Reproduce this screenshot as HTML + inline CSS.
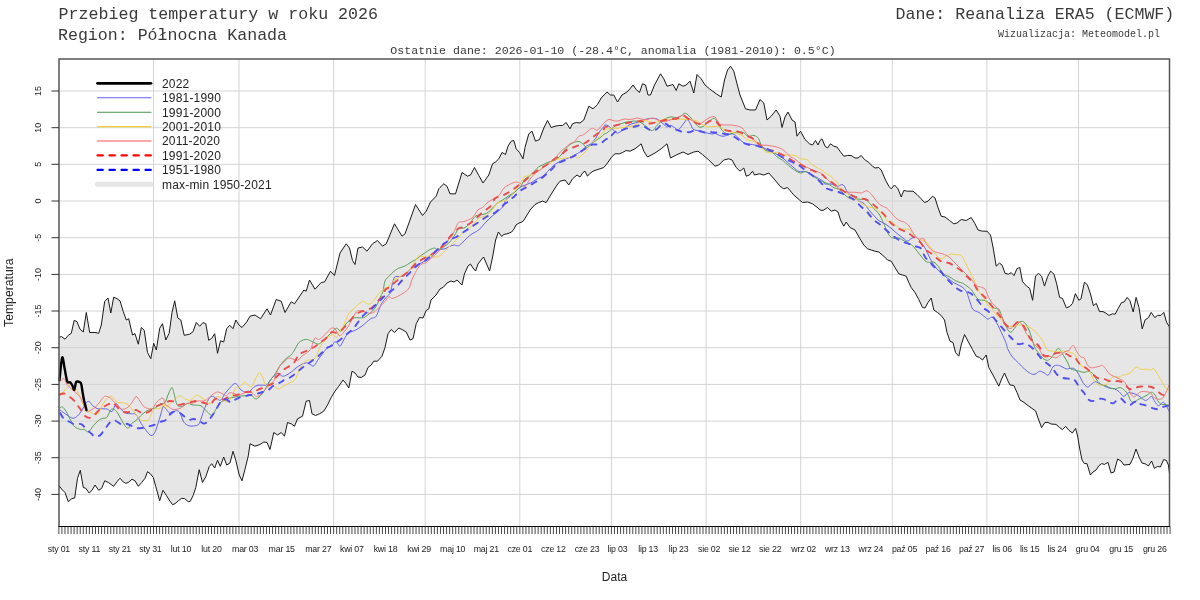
<!DOCTYPE html><html><head><meta charset="utf-8"><style>html,body{margin:0;padding:0;background:#fff;}svg{display:block}.m{font-family:"Liberation Mono",monospace;fill:#3a3a3a}.s{font-family:"Liberation Sans",Arial,sans-serif;fill:#222}</style></head><body>
<svg width="1200" height="600" viewBox="0 0 1200 600">
<rect width="1200" height="600" fill="#fff"/>
<text class="m" x="58.5" y="19" font-size="16.65">Przebieg temperatury w roku 2026</text>
<text class="m" x="58" y="40" font-size="16.6">Region: Północna Kanada</text>
<text class="m" x="1174.3" y="19" font-size="16.6" text-anchor="end">Dane: Reanaliza ERA5 (ECMWF)</text>
<text class="m" x="1160" y="37.4" font-size="10" text-anchor="end" fill="#555">Wizualizacja: Meteomodel.pl</text>
<text class="m" x="613" y="53.5" font-size="11.6" text-anchor="middle" fill="#555">Ostatnie dane: 2026-01-10 (-28.4°C, anomalia (1981-2010): 0.5°C)</text>
<path d="M59.2 337.0 L61.7 336.7 L65.0 339.2 L68.3 335.3 L71.3 333.3 L74.2 320.3 L77.0 321.7 L80.0 329.2 L83.3 332.0 L86.3 312.5 L89.7 332.5 L95.0 332.5 L98.7 333.3 L101.3 325.0 L104.7 301.3 L108.0 298.0 L110.8 313.0 L113.7 297.2 L117.0 298.7 L120.0 300.8 L123.3 311.7 L126.3 320.0 L128.7 318.7 L132.5 335.0 L135.0 333.7 L138.3 344.2 L141.3 327.5 L144.2 330.3 L147.5 352.5 L150.8 358.7 L153.7 343.3 L156.3 350.0 L159.7 328.3 L162.5 323.7 L165.8 340.0 L169.2 333.3 L172.0 312.5 L174.7 300.8 L177.8 318.0 L180.8 320.0 L184.2 335.3 L189.7 334.2 L193.0 331.7 L196.3 322.5 L199.7 326.3 L203.0 322.5 L205.8 323.7 L208.7 340.3 L211.7 338.3 L214.7 333.7 L217.5 353.3 L220.5 340.8 L223.7 342.0 L226.7 328.7 L229.7 325.3 L233.0 328.7 L235.8 320.0 L239.2 325.3 L242.0 327.5 L246.7 322.0 L250.0 316.2 L255.0 315.0 L260.5 318.8 L267.0 308.8 L270.5 315.0 L276.2 299.5 L281.2 301.2 L285.0 312.5 L291.2 301.8 L294.5 303.8 L303.8 290.0 L306.2 291.2 L309.5 280.0 L315.0 289.2 L321.2 282.5 L324.5 282.0 L330.5 271.2 L334.5 275.5 L340.0 253.0 L346.2 243.8 L349.5 248.0 L352.5 260.5 L355.0 264.5 L358.0 248.0 L362.5 247.0 L367.0 251.2 L372.5 243.8 L377.5 240.5 L382.5 246.2 L386.2 243.8 L394.5 223.8 L397.5 228.8 L402.0 236.2 L405.0 233.8 L410.0 220.0 L415.5 204.5 L422.5 215.5 L426.2 211.2 L430.5 202.0 L436.2 196.2 L438.8 188.8 L440.0 187.5 L443.8 183.8 L447.0 186.2 L450.0 193.8 L455.5 193.8 L462.0 172.5 L467.5 176.2 L470.5 175.0 L474.5 167.5 L478.8 175.5 L483.0 183.0 L488.8 175.0 L492.5 163.8 L495.5 162.0 L498.8 158.8 L502.0 152.5 L505.5 154.5 L508.0 146.2 L511.2 141.2 L513.8 140.5 L516.2 148.8 L519.5 152.5 L523.0 158.8 L525.0 147.5 L528.8 133.8 L532.0 131.2 L535.5 141.2 L539.5 139.5 L543.8 128.0 L547.5 120.5 L551.2 127.5 L555.0 126.2 L558.8 125.5 L562.5 125.5 L566.2 122.5 L570.0 128.8 L572.5 123.8 L576.2 122.5 L580.0 123.0 L583.8 120.0 L588.8 106.2 L593.0 108.8 L597.5 104.5 L601.2 98.0 L607.0 92.0 L610.5 95.0 L613.8 95.0 L617.5 102.0 L622.0 95.0 L627.0 92.0 L630.0 88.8 L633.0 85.0 L636.2 89.5 L639.5 92.5 L642.5 83.8 L645.5 85.0 L648.0 95.0 L650.5 95.0 L654.5 85.0 L660.5 73.8 L663.8 78.8 L667.0 86.2 L671.2 85.0 L673.0 84.5 L676.2 90.5 L678.8 83.8 L683.0 86.2 L686.2 85.0 L690.0 81.2 L693.8 93.0 L697.0 74.5 L701.2 78.8 L705.0 85.0 L709.5 88.8 L716.2 93.8 L721.2 97.0 L724.5 80.0 L727.5 70.0 L730.5 66.2 L733.8 71.2 L737.0 83.8 L740.0 95.0 L745.5 108.8 L750.0 110.0 L755.5 110.0 L760.0 99.5 L763.8 103.0 L767.0 120.0 L771.2 116.2 L776.2 110.0 L780.0 116.2 L782.0 127.5 L785.0 117.0 L788.0 112.0 L792.0 120.0 L795.0 122.0 L797.0 136.2 L800.5 131.2 L805.0 139.5 L809.5 143.8 L812.5 145.0 L815.5 140.5 L818.0 145.0 L820.0 140.5 L822.0 138.8 L825.0 146.2 L827.5 148.0 L830.5 143.8 L833.8 146.2 L837.0 147.0 L840.0 151.2 L843.8 156.2 L847.5 155.5 L851.2 155.5 L855.0 158.0 L858.0 158.0 L861.2 155.5 L864.5 159.5 L868.8 162.5 L872.5 166.2 L875.0 168.0 L878.8 167.5 L881.2 170.0 L885.5 180.0 L888.8 186.2 L891.2 188.8 L894.5 185.0 L898.0 188.8 L901.2 197.0 L903.8 190.5 L907.5 191.2 L913.0 191.2 L917.0 194.5 L921.2 198.8 L924.5 202.5 L928.0 201.2 L932.5 196.2 L935.0 198.0 L938.0 207.5 L941.2 216.2 L945.0 217.0 L949.5 220.5 L953.8 223.8 L957.0 223.0 L961.2 219.5 L966.2 220.5 L971.2 217.5 L975.0 223.8 L978.0 230.0 L982.5 231.2 L987.0 231.2 L990.5 235.0 L993.0 247.0 L996.2 266.2 L999.5 263.0 L1000.0 263.6 L1002.2 265.2 L1005.0 273.3 L1008.5 274.2 L1011.2 272.6 L1014.0 275.6 L1016.9 268.8 L1019.8 267.4 L1022.5 281.6 L1026.5 286.1 L1029.7 288.4 L1032.6 300.3 L1035.5 276.0 L1038.7 273.3 L1041.6 276.4 L1044.5 286.1 L1047.7 276.4 L1050.6 271.1 L1054.0 274.2 L1056.7 283.9 L1059.6 297.4 L1062.5 298.5 L1066.4 307.9 L1069.8 306.4 L1072.5 303.4 L1075.4 293.6 L1078.8 300.3 L1081.0 298.9 L1084.4 282.3 L1087.3 284.6 L1090.5 294.0 L1093.4 305.7 L1096.3 303.4 L1099.5 311.6 L1103.0 311.6 L1105.8 313.1 L1109.1 315.4 L1112.5 313.8 L1115.2 314.2 L1118.1 308.6 L1121.5 302.6 L1124.2 301.9 L1127.1 297.4 L1130.0 300.8 L1133.2 312.0 L1136.1 297.4 L1139.0 307.5 L1142.2 328.9 L1145.1 319.9 L1148.5 317.6 L1151.2 312.4 L1154.8 317.6 L1157.5 315.4 L1160.9 315.4 L1163.8 312.4 L1166.5 322.1 L1169.2 326.6 L1169.6 474.0 L1168.4 465.0 L1166.4 460.4 L1163.6 459.6 L1160.4 467.0 L1157.6 466.4 L1154.4 468.4 L1151.6 461.0 L1148.4 466.0 L1145.6 464.0 L1142.0 463.0 L1139.0 457.0 L1136.0 449.0 L1133.0 458.0 L1130.0 464.4 L1124.0 465.0 L1121.0 461.0 L1117.6 459.0 L1114.0 472.0 L1111.0 473.0 L1108.0 462.4 L1104.4 464.4 L1101.6 463.6 L1099.0 465.6 L1096.0 470.0 L1093.0 472.0 L1090.4 475.0 L1087.0 463.6 L1084.4 463.6 L1082.0 460.0 L1079.6 448.0 L1077.6 436.0 L1075.6 428.4 L1072.4 433.0 L1069.0 430.4 L1065.6 426.4 L1062.4 429.6 L1059.6 427.6 L1056.0 424.4 L1051.0 424.0 L1048.0 422.4 L1045.0 422.4 L1041.6 427.6 L1038.4 419.0 L1035.6 411.0 L1032.0 408.4 L1028.0 405.6 L1024.0 402.4 L1020.0 400.0 L1017.0 392.5 L1013.8 385.5 L1010.0 385.0 L1007.5 380.0 L1004.5 373.0 L1001.2 380.0 L998.8 386.2 L996.2 381.2 L993.0 375.0 L988.8 367.5 L986.2 355.0 L982.5 360.0 L979.5 357.5 L976.2 356.2 L972.5 349.5 L968.0 341.2 L964.5 334.5 L961.2 345.0 L958.8 356.2 L955.5 352.5 L953.0 342.5 L950.0 341.2 L947.0 332.5 L944.5 320.0 L941.2 315.5 L937.5 312.5 L933.8 310.0 L931.2 298.0 L928.0 302.5 L925.0 308.0 L922.5 307.5 L918.8 299.5 L915.0 292.5 L911.2 287.5 L908.8 282.5 L906.2 276.2 L902.5 275.0 L898.8 273.8 L895.0 267.5 L891.2 261.2 L887.5 260.0 L883.8 256.2 L878.8 252.0 L875.0 251.2 L871.2 250.0 L867.5 248.8 L863.8 245.0 L860.0 238.8 L855.0 230.0 L850.0 227.5 L846.2 222.0 L843.8 226.2 L840.5 220.0 L838.0 212.0 L835.0 210.0 L831.2 211.2 L827.5 207.5 L823.0 210.5 L820.0 210.0 L818.0 208.0 L812.5 203.8 L807.5 202.0 L802.5 202.5 L799.5 200.0 L793.8 195.0 L787.5 187.5 L783.8 188.8 L780.0 186.2 L775.0 180.0 L768.8 173.0 L763.8 175.0 L759.5 173.8 L754.5 175.0 L752.5 171.2 L749.5 175.0 L746.2 176.2 L743.8 168.0 L740.0 171.2 L736.2 167.5 L732.0 160.0 L728.8 158.8 L723.8 160.0 L718.8 165.0 L715.0 166.2 L708.8 160.0 L702.5 154.5 L698.0 151.2 L693.8 152.0 L688.0 154.5 L683.0 152.0 L676.2 155.0 L670.5 158.0 L667.0 143.8 L661.2 148.8 L655.0 153.0 L651.2 155.0 L647.5 157.0 L643.8 151.2 L641.2 143.8 L635.0 148.8 L630.0 151.2 L626.2 150.5 L622.5 152.5 L619.5 153.8 L615.0 153.8 L611.2 157.5 L607.5 163.0 L603.8 167.5 L600.0 168.8 L596.2 170.0 L593.0 171.2 L589.5 173.8 L587.5 176.2 L585.0 171.2 L583.0 172.5 L580.0 177.0 L577.0 175.0 L572.5 178.8 L568.8 185.0 L565.0 180.0 L560.0 181.2 L557.0 185.0 L553.8 190.0 L550.0 196.2 L546.2 202.5 L542.5 201.2 L538.8 202.5 L535.0 204.5 L530.0 210.0 L529.6 211.0 L527.0 215.0 L524.0 220.0 L522.0 222.0 L519.0 223.0 L516.0 225.0 L514.0 229.0 L511.6 232.0 L508.0 233.6 L504.0 234.4 L501.6 236.4 L498.4 232.0 L495.6 240.0 L492.4 258.0 L489.6 271.0 L487.0 265.0 L483.6 257.0 L481.0 260.0 L478.0 264.0 L475.6 271.0 L473.0 268.0 L470.4 264.0 L468.0 266.0 L464.4 274.0 L462.0 285.0 L457.0 280.0 L454.0 282.0 L451.0 281.0 L447.0 283.0 L443.6 287.0 L440.0 289.0 L436.0 295.0 L431.0 300.0 L428.8 308.8 L426.2 310.5 L423.0 318.0 L419.5 317.5 L416.2 323.8 L413.0 338.8 L410.0 340.0 L406.2 332.0 L402.0 329.5 L398.8 328.0 L394.5 332.5 L391.2 329.5 L388.0 333.8 L385.0 347.5 L382.0 356.2 L377.5 361.2 L373.8 361.2 L371.2 365.0 L368.0 367.5 L365.0 375.0 L361.2 377.5 L358.0 377.0 L355.0 373.0 L352.0 371.2 L348.8 388.0 L346.2 383.8 L343.0 380.0 L338.8 386.2 L335.0 391.2 L331.2 397.5 L327.5 405.0 L323.8 411.2 L319.5 413.8 L315.5 415.5 L312.0 413.8 L309.5 400.5 L306.2 401.2 L302.5 416.2 L297.5 418.8 L294.5 426.2 L291.2 423.8 L287.5 422.5 L284.5 436.2 L281.2 432.5 L277.5 435.0 L273.8 432.5 L270.0 449.5 L267.0 442.5 L263.8 442.0 L260.0 444.5 L255.0 446.2 L250.0 443.8 L248.3 455.8 L245.0 469.2 L242.0 480.8 L239.2 475.0 L235.8 460.3 L233.0 451.3 L230.0 463.0 L226.7 465.0 L223.7 457.0 L220.3 466.3 L217.5 460.3 L214.7 468.0 L211.7 463.7 L209.2 466.7 L205.8 476.7 L202.5 482.5 L199.2 469.7 L195.8 487.5 L193.0 495.8 L190.3 501.3 L188.3 501.7 L184.7 498.7 L181.7 498.3 L178.3 500.8 L175.0 503.7 L172.5 504.7 L169.2 500.0 L166.3 495.3 L163.0 490.3 L159.7 500.8 L155.8 486.7 L153.3 477.5 L150.3 473.7 L147.5 471.7 L145.0 478.3 L141.7 482.5 L138.3 486.3 L135.0 480.8 L132.0 479.2 L128.3 482.5 L125.8 483.3 L123.3 482.0 L120.0 478.3 L117.0 481.7 L113.7 486.3 L108.3 482.5 L104.7 480.8 L101.7 488.3 L98.7 490.3 L95.0 485.0 L92.0 490.3 L89.2 493.0 L85.8 488.3 L83.3 487.5 L80.3 470.3 L77.5 478.3 L74.7 498.0 L71.7 498.7 L68.3 501.7 L65.0 492.5 L61.7 489.2 L59.2 485.8 Z" fill="#e6e6e6" stroke="none"/>
<path d="M59 91.0H1169.5M59 127.7H1169.5M59 164.3H1169.5M59 201.0H1169.5M59 237.7H1169.5M59 274.4H1169.5M59 311.0H1169.5M59 347.7H1169.5M59 384.4H1169.5M59 421.1H1169.5M59 457.7H1169.5M59 494.4H1169.5M153.5 59V526.5M239.0 59V526.5M333.6 59V526.5M425.2 59V526.5M519.8 59V526.5M611.4 59V526.5M706.1 59V526.5M800.7 59V526.5M892.3 59V526.5M986.9 59V526.5M1078.5 59V526.5" stroke="#d4d4d4" stroke-width="1" fill="none"/>
<path d="M59.2 337.0 L61.7 336.7 L65.0 339.2 L68.3 335.3 L71.3 333.3 L74.2 320.3 L77.0 321.7 L80.0 329.2 L83.3 332.0 L86.3 312.5 L89.7 332.5 L95.0 332.5 L98.7 333.3 L101.3 325.0 L104.7 301.3 L108.0 298.0 L110.8 313.0 L113.7 297.2 L117.0 298.7 L120.0 300.8 L123.3 311.7 L126.3 320.0 L128.7 318.7 L132.5 335.0 L135.0 333.7 L138.3 344.2 L141.3 327.5 L144.2 330.3 L147.5 352.5 L150.8 358.7 L153.7 343.3 L156.3 350.0 L159.7 328.3 L162.5 323.7 L165.8 340.0 L169.2 333.3 L172.0 312.5 L174.7 300.8 L177.8 318.0 L180.8 320.0 L184.2 335.3 L189.7 334.2 L193.0 331.7 L196.3 322.5 L199.7 326.3 L203.0 322.5 L205.8 323.7 L208.7 340.3 L211.7 338.3 L214.7 333.7 L217.5 353.3 L220.5 340.8 L223.7 342.0 L226.7 328.7 L229.7 325.3 L233.0 328.7 L235.8 320.0 L239.2 325.3 L242.0 327.5 L246.7 322.0 L250.0 316.2 L255.0 315.0 L260.5 318.8 L267.0 308.8 L270.5 315.0 L276.2 299.5 L281.2 301.2 L285.0 312.5 L291.2 301.8 L294.5 303.8 L303.8 290.0 L306.2 291.2 L309.5 280.0 L315.0 289.2 L321.2 282.5 L324.5 282.0 L330.5 271.2 L334.5 275.5 L340.0 253.0 L346.2 243.8 L349.5 248.0 L352.5 260.5 L355.0 264.5 L358.0 248.0 L362.5 247.0 L367.0 251.2 L372.5 243.8 L377.5 240.5 L382.5 246.2 L386.2 243.8 L394.5 223.8 L397.5 228.8 L402.0 236.2 L405.0 233.8 L410.0 220.0 L415.5 204.5 L422.5 215.5 L426.2 211.2 L430.5 202.0 L436.2 196.2 L438.8 188.8 L440.0 187.5 L443.8 183.8 L447.0 186.2 L450.0 193.8 L455.5 193.8 L462.0 172.5 L467.5 176.2 L470.5 175.0 L474.5 167.5 L478.8 175.5 L483.0 183.0 L488.8 175.0 L492.5 163.8 L495.5 162.0 L498.8 158.8 L502.0 152.5 L505.5 154.5 L508.0 146.2 L511.2 141.2 L513.8 140.5 L516.2 148.8 L519.5 152.5 L523.0 158.8 L525.0 147.5 L528.8 133.8 L532.0 131.2 L535.5 141.2 L539.5 139.5 L543.8 128.0 L547.5 120.5 L551.2 127.5 L555.0 126.2 L558.8 125.5 L562.5 125.5 L566.2 122.5 L570.0 128.8 L572.5 123.8 L576.2 122.5 L580.0 123.0 L583.8 120.0 L588.8 106.2 L593.0 108.8 L597.5 104.5 L601.2 98.0 L607.0 92.0 L610.5 95.0 L613.8 95.0 L617.5 102.0 L622.0 95.0 L627.0 92.0 L630.0 88.8 L633.0 85.0 L636.2 89.5 L639.5 92.5 L642.5 83.8 L645.5 85.0 L648.0 95.0 L650.5 95.0 L654.5 85.0 L660.5 73.8 L663.8 78.8 L667.0 86.2 L671.2 85.0 L673.0 84.5 L676.2 90.5 L678.8 83.8 L683.0 86.2 L686.2 85.0 L690.0 81.2 L693.8 93.0 L697.0 74.5 L701.2 78.8 L705.0 85.0 L709.5 88.8 L716.2 93.8 L721.2 97.0 L724.5 80.0 L727.5 70.0 L730.5 66.2 L733.8 71.2 L737.0 83.8 L740.0 95.0 L745.5 108.8 L750.0 110.0 L755.5 110.0 L760.0 99.5 L763.8 103.0 L767.0 120.0 L771.2 116.2 L776.2 110.0 L780.0 116.2 L782.0 127.5 L785.0 117.0 L788.0 112.0 L792.0 120.0 L795.0 122.0 L797.0 136.2 L800.5 131.2 L805.0 139.5 L809.5 143.8 L812.5 145.0 L815.5 140.5 L818.0 145.0 L820.0 140.5 L822.0 138.8 L825.0 146.2 L827.5 148.0 L830.5 143.8 L833.8 146.2 L837.0 147.0 L840.0 151.2 L843.8 156.2 L847.5 155.5 L851.2 155.5 L855.0 158.0 L858.0 158.0 L861.2 155.5 L864.5 159.5 L868.8 162.5 L872.5 166.2 L875.0 168.0 L878.8 167.5 L881.2 170.0 L885.5 180.0 L888.8 186.2 L891.2 188.8 L894.5 185.0 L898.0 188.8 L901.2 197.0 L903.8 190.5 L907.5 191.2 L913.0 191.2 L917.0 194.5 L921.2 198.8 L924.5 202.5 L928.0 201.2 L932.5 196.2 L935.0 198.0 L938.0 207.5 L941.2 216.2 L945.0 217.0 L949.5 220.5 L953.8 223.8 L957.0 223.0 L961.2 219.5 L966.2 220.5 L971.2 217.5 L975.0 223.8 L978.0 230.0 L982.5 231.2 L987.0 231.2 L990.5 235.0 L993.0 247.0 L996.2 266.2 L999.5 263.0 L1000.0 263.6 L1002.2 265.2 L1005.0 273.3 L1008.5 274.2 L1011.2 272.6 L1014.0 275.6 L1016.9 268.8 L1019.8 267.4 L1022.5 281.6 L1026.5 286.1 L1029.7 288.4 L1032.6 300.3 L1035.5 276.0 L1038.7 273.3 L1041.6 276.4 L1044.5 286.1 L1047.7 276.4 L1050.6 271.1 L1054.0 274.2 L1056.7 283.9 L1059.6 297.4 L1062.5 298.5 L1066.4 307.9 L1069.8 306.4 L1072.5 303.4 L1075.4 293.6 L1078.8 300.3 L1081.0 298.9 L1084.4 282.3 L1087.3 284.6 L1090.5 294.0 L1093.4 305.7 L1096.3 303.4 L1099.5 311.6 L1103.0 311.6 L1105.8 313.1 L1109.1 315.4 L1112.5 313.8 L1115.2 314.2 L1118.1 308.6 L1121.5 302.6 L1124.2 301.9 L1127.1 297.4 L1130.0 300.8 L1133.2 312.0 L1136.1 297.4 L1139.0 307.5 L1142.2 328.9 L1145.1 319.9 L1148.5 317.6 L1151.2 312.4 L1154.8 317.6 L1157.5 315.4 L1160.9 315.4 L1163.8 312.4 L1166.5 322.1 L1169.2 326.6" stroke="#1a1a1a" stroke-width="1.0" fill="none" stroke-linejoin="round"/><path d="M59.2 485.8 L61.7 489.2 L65.0 492.5 L68.3 501.7 L71.7 498.7 L74.7 498.0 L77.5 478.3 L80.3 470.3 L83.3 487.5 L85.8 488.3 L89.2 493.0 L92.0 490.3 L95.0 485.0 L98.7 490.3 L101.7 488.3 L104.7 480.8 L108.3 482.5 L113.7 486.3 L117.0 481.7 L120.0 478.3 L123.3 482.0 L125.8 483.3 L128.3 482.5 L132.0 479.2 L135.0 480.8 L138.3 486.3 L141.7 482.5 L145.0 478.3 L147.5 471.7 L150.3 473.7 L153.3 477.5 L155.8 486.7 L159.7 500.8 L163.0 490.3 L166.3 495.3 L169.2 500.0 L172.5 504.7 L175.0 503.7 L178.3 500.8 L181.7 498.3 L184.7 498.7 L188.3 501.7 L190.3 501.3 L193.0 495.8 L195.8 487.5 L199.2 469.7 L202.5 482.5 L205.8 476.7 L209.2 466.7 L211.7 463.7 L214.7 468.0 L217.5 460.3 L220.3 466.3 L223.7 457.0 L226.7 465.0 L230.0 463.0 L233.0 451.3 L235.8 460.3 L239.2 475.0 L242.0 480.8 L245.0 469.2 L248.3 455.8 L250.0 443.8 L255.0 446.2 L260.0 444.5 L263.8 442.0 L267.0 442.5 L270.0 449.5 L273.8 432.5 L277.5 435.0 L281.2 432.5 L284.5 436.2 L287.5 422.5 L291.2 423.8 L294.5 426.2 L297.5 418.8 L302.5 416.2 L306.2 401.2 L309.5 400.5 L312.0 413.8 L315.5 415.5 L319.5 413.8 L323.8 411.2 L327.5 405.0 L331.2 397.5 L335.0 391.2 L338.8 386.2 L343.0 380.0 L346.2 383.8 L348.8 388.0 L352.0 371.2 L355.0 373.0 L358.0 377.0 L361.2 377.5 L365.0 375.0 L368.0 367.5 L371.2 365.0 L373.8 361.2 L377.5 361.2 L382.0 356.2 L385.0 347.5 L388.0 333.8 L391.2 329.5 L394.5 332.5 L398.8 328.0 L402.0 329.5 L406.2 332.0 L410.0 340.0 L413.0 338.8 L416.2 323.8 L419.5 317.5 L423.0 318.0 L426.2 310.5 L428.8 308.8 L431.0 300.0 L436.0 295.0 L440.0 289.0 L443.6 287.0 L447.0 283.0 L451.0 281.0 L454.0 282.0 L457.0 280.0 L462.0 285.0 L464.4 274.0 L468.0 266.0 L470.4 264.0 L473.0 268.0 L475.6 271.0 L478.0 264.0 L481.0 260.0 L483.6 257.0 L487.0 265.0 L489.6 271.0 L492.4 258.0 L495.6 240.0 L498.4 232.0 L501.6 236.4 L504.0 234.4 L508.0 233.6 L511.6 232.0 L514.0 229.0 L516.0 225.0 L519.0 223.0 L522.0 222.0 L524.0 220.0 L527.0 215.0 L529.6 211.0 L530.0 210.0 L535.0 204.5 L538.8 202.5 L542.5 201.2 L546.2 202.5 L550.0 196.2 L553.8 190.0 L557.0 185.0 L560.0 181.2 L565.0 180.0 L568.8 185.0 L572.5 178.8 L577.0 175.0 L580.0 177.0 L583.0 172.5 L585.0 171.2 L587.5 176.2 L589.5 173.8 L593.0 171.2 L596.2 170.0 L600.0 168.8 L603.8 167.5 L607.5 163.0 L611.2 157.5 L615.0 153.8 L619.5 153.8 L622.5 152.5 L626.2 150.5 L630.0 151.2 L635.0 148.8 L641.2 143.8 L643.8 151.2 L647.5 157.0 L651.2 155.0 L655.0 153.0 L661.2 148.8 L667.0 143.8 L670.5 158.0 L676.2 155.0 L683.0 152.0 L688.0 154.5 L693.8 152.0 L698.0 151.2 L702.5 154.5 L708.8 160.0 L715.0 166.2 L718.8 165.0 L723.8 160.0 L728.8 158.8 L732.0 160.0 L736.2 167.5 L740.0 171.2 L743.8 168.0 L746.2 176.2 L749.5 175.0 L752.5 171.2 L754.5 175.0 L759.5 173.8 L763.8 175.0 L768.8 173.0 L775.0 180.0 L780.0 186.2 L783.8 188.8 L787.5 187.5 L793.8 195.0 L799.5 200.0 L802.5 202.5 L807.5 202.0 L812.5 203.8 L818.0 208.0 L820.0 210.0 L823.0 210.5 L827.5 207.5 L831.2 211.2 L835.0 210.0 L838.0 212.0 L840.5 220.0 L843.8 226.2 L846.2 222.0 L850.0 227.5 L855.0 230.0 L860.0 238.8 L863.8 245.0 L867.5 248.8 L871.2 250.0 L875.0 251.2 L878.8 252.0 L883.8 256.2 L887.5 260.0 L891.2 261.2 L895.0 267.5 L898.8 273.8 L902.5 275.0 L906.2 276.2 L908.8 282.5 L911.2 287.5 L915.0 292.5 L918.8 299.5 L922.5 307.5 L925.0 308.0 L928.0 302.5 L931.2 298.0 L933.8 310.0 L937.5 312.5 L941.2 315.5 L944.5 320.0 L947.0 332.5 L950.0 341.2 L953.0 342.5 L955.5 352.5 L958.8 356.2 L961.2 345.0 L964.5 334.5 L968.0 341.2 L972.5 349.5 L976.2 356.2 L979.5 357.5 L982.5 360.0 L986.2 355.0 L988.8 367.5 L993.0 375.0 L996.2 381.2 L998.8 386.2 L1001.2 380.0 L1004.5 373.0 L1007.5 380.0 L1010.0 385.0 L1013.8 385.5 L1017.0 392.5 L1020.0 400.0 L1024.0 402.4 L1028.0 405.6 L1032.0 408.4 L1035.6 411.0 L1038.4 419.0 L1041.6 427.6 L1045.0 422.4 L1048.0 422.4 L1051.0 424.0 L1056.0 424.4 L1059.6 427.6 L1062.4 429.6 L1065.6 426.4 L1069.0 430.4 L1072.4 433.0 L1075.6 428.4 L1077.6 436.0 L1079.6 448.0 L1082.0 460.0 L1084.4 463.6 L1087.0 463.6 L1090.4 475.0 L1093.0 472.0 L1096.0 470.0 L1099.0 465.6 L1101.6 463.6 L1104.4 464.4 L1108.0 462.4 L1111.0 473.0 L1114.0 472.0 L1117.6 459.0 L1121.0 461.0 L1124.0 465.0 L1130.0 464.4 L1133.0 458.0 L1136.0 449.0 L1139.0 457.0 L1142.0 463.0 L1145.6 464.0 L1148.4 466.0 L1151.6 461.0 L1154.4 468.4 L1157.6 466.4 L1160.4 467.0 L1163.6 459.6 L1166.4 460.4 L1168.4 465.0 L1169.6 474.0" stroke="#1a1a1a" stroke-width="1.0" fill="none" stroke-linejoin="round"/><path d="M60.2 410.0 C60.9 410.5 62.6 412.0 64.0 413.0 C65.4 414.0 67.0 415.1 68.5 416.0 C70.0 416.9 71.5 418.2 73.0 418.2 C74.5 418.2 76.0 417.4 77.5 416.0 C79.0 414.6 80.5 412.2 82.0 410.0 C83.5 407.8 85.2 403.9 86.5 402.5 C87.8 401.1 88.5 401.2 89.5 401.8 C90.5 402.2 91.2 404.4 92.5 405.5 C93.8 406.6 95.2 407.9 97.0 408.5 C98.8 409.1 101.2 408.7 103.0 408.8 C104.8 408.9 106.0 408.8 107.5 409.2 C109.0 409.7 110.6 412.4 112.0 411.5 C113.4 410.6 114.8 405.0 115.8 404.0 C116.8 403.0 117.1 404.6 118.0 405.5 C118.9 406.4 119.8 408.0 121.0 409.2 C122.2 410.5 123.8 412.2 125.5 413.0 C127.2 413.8 129.8 413.5 131.5 413.8 C133.2 414.0 134.4 412.9 136.0 414.5 C137.6 416.1 139.5 420.8 141.2 423.5 C143.0 426.2 144.9 429.0 146.5 431.0 C148.1 433.0 149.6 435.2 151.0 435.5 C152.4 435.8 153.5 434.8 154.8 432.5 C156.0 430.2 157.1 426.2 158.5 422.0 C159.9 417.8 161.9 409.4 163.0 407.0 C164.1 404.6 164.2 407.0 165.0 407.8 C165.8 408.5 167.0 410.4 168.0 411.5 C169.0 412.6 170.0 414.5 171.0 414.5 C172.0 414.5 173.0 412.1 174.0 411.5 C175.0 410.9 176.0 410.5 177.0 410.8 C178.0 411.0 178.9 411.1 180.0 413.0 C181.1 414.9 182.2 419.9 183.8 422.0 C185.2 424.1 187.1 425.1 189.0 425.8 C190.9 426.4 193.4 426.0 195.0 425.8 C196.6 425.5 197.8 425.4 198.8 424.2 C199.8 423.1 200.1 421.4 201.0 419.0 C201.9 416.6 202.8 413.2 204.0 410.0 C205.2 406.8 207.2 401.8 208.5 399.5 C209.8 397.2 210.2 396.8 211.5 396.5 C212.8 396.2 214.5 397.4 216.0 398.0 C217.5 398.6 219.0 401.0 220.5 400.2 C222.0 399.5 223.5 395.5 225.0 393.5 C226.5 391.5 228.0 389.9 229.5 388.2 C231.0 386.6 232.8 384.4 234.0 383.8 C235.2 383.1 236.0 383.6 237.0 384.5 C238.0 385.4 238.8 387.8 240.0 389.0 C241.2 390.2 243.0 391.5 244.5 392.0 C246.0 392.5 247.5 392.8 249.0 392.0 C250.5 391.2 252.0 388.6 253.5 387.5 C255.0 386.4 256.5 385.6 258.0 385.2 C259.5 384.9 261.0 385.4 262.5 385.2 C264.0 385.1 265.5 385.6 267.0 384.5 C268.5 383.4 270.2 380.0 271.5 378.5 C272.8 377.0 273.9 376.4 275.0 375.5 C276.1 374.6 276.8 373.1 278.0 373.2 C279.2 373.4 281.0 376.0 282.5 376.2 C284.0 376.5 285.5 375.5 287.0 374.8 C288.5 374.0 290.0 372.9 291.5 371.8 C293.0 370.6 294.5 369.1 296.0 368.0 C297.5 366.9 298.8 365.9 300.5 365.0 C302.2 364.1 304.8 362.8 306.5 362.8 C308.2 362.8 309.8 364.5 311.0 365.0 C312.2 365.5 312.8 366.8 314.0 365.8 C315.2 364.8 317.0 361.1 318.5 359.0 C320.0 356.9 321.5 354.9 323.0 353.0 C324.5 351.1 326.0 349.0 327.5 347.8 C329.0 346.5 330.8 346.5 332.0 345.5 C333.2 344.5 334.0 342.0 335.0 341.8 C336.0 341.5 337.1 343.2 338.0 344.0 C338.9 344.8 339.2 347.0 340.2 346.2 C341.2 345.5 342.6 341.8 344.0 339.5 C345.4 337.2 347.0 334.1 348.5 332.8 C350.0 331.4 351.5 331.9 353.0 331.2 C354.5 330.6 356.0 329.9 357.5 329.0 C359.0 328.1 360.5 327.1 362.0 326.0 C363.5 324.9 365.0 323.5 366.5 322.2 C368.0 321.0 369.5 319.4 371.0 318.5 C372.5 317.6 374.2 318.2 375.5 317.0 C376.8 315.8 377.5 313.2 378.5 311.0 C379.5 308.8 380.2 305.8 381.5 303.5 C382.8 301.2 384.5 299.2 386.0 297.5 C387.5 295.8 389.7 294.2 390.5 293.0 C391.3 291.8 390.4 292.5 391.0 290.0 C391.6 287.5 393.0 280.2 394.0 278.0 C395.0 275.8 395.8 276.8 397.0 276.5 C398.2 276.2 400.0 277.0 401.5 276.5 C403.0 276.0 404.5 274.8 406.0 273.5 C407.5 272.2 409.0 270.2 410.5 269.0 C412.0 267.8 413.2 267.0 415.0 266.0 C416.8 265.0 419.0 264.0 421.0 263.0 C423.0 262.0 425.2 261.0 427.0 260.0 C428.8 259.0 430.0 258.5 431.5 257.0 C433.0 255.5 434.5 252.2 436.0 251.0 C437.5 249.8 439.0 249.9 440.5 249.5 C442.0 249.1 443.5 249.2 445.0 248.8 C446.5 248.2 448.0 247.1 449.5 246.5 C451.0 245.9 452.5 245.1 454.0 245.0 C455.5 244.9 457.0 246.2 458.5 245.8 C460.0 245.2 461.5 243.4 463.0 242.0 C464.5 240.6 466.0 238.9 467.5 237.5 C469.0 236.1 470.5 234.8 472.0 233.8 C473.5 232.8 475.0 232.5 476.5 231.5 C478.0 230.5 479.5 229.2 481.0 227.8 C482.5 226.2 484.0 224.1 485.5 222.5 C487.0 220.9 488.5 219.4 490.0 218.0 C491.5 216.6 493.0 215.5 494.5 214.2 C496.0 213.0 497.5 211.9 499.0 210.5 C500.5 209.1 502.4 207.8 503.5 206.0 C504.6 204.2 504.4 201.6 505.5 200.0 C506.6 198.4 508.5 197.5 510.0 196.2 C511.5 195.0 513.0 193.9 514.5 192.5 C516.0 191.1 517.2 189.2 519.0 188.0 C520.8 186.8 523.0 185.9 525.0 185.0 C527.0 184.1 529.0 183.8 531.0 182.8 C533.0 181.8 535.0 180.1 537.0 179.0 C539.0 177.9 541.0 177.5 543.0 176.0 C545.0 174.5 547.2 171.8 549.0 170.0 C550.8 168.2 552.0 166.8 553.5 165.5 C555.0 164.2 556.5 163.4 558.0 162.5 C559.5 161.6 560.8 161.0 562.5 160.2 C564.2 159.5 566.8 158.8 568.5 158.0 C570.2 157.2 571.5 156.5 573.0 155.8 C574.5 155.0 576.0 154.4 577.5 153.5 C579.0 152.6 580.5 151.8 582.0 150.5 C583.5 149.2 585.0 147.1 586.5 146.0 C588.0 144.9 589.5 145.0 591.0 143.8 C592.5 142.5 594.0 140.6 595.5 138.5 C597.0 136.4 598.5 133.1 600.0 131.0 C601.5 128.9 603.7 126.8 604.5 125.8 C605.3 124.8 604.4 125.0 605.0 125.0 C605.6 125.0 607.0 125.0 608.0 125.5 C609.0 126.0 610.0 127.2 611.0 128.0 C612.0 128.8 613.0 129.7 614.0 130.5 C615.0 131.3 616.0 132.8 617.0 133.0 C618.0 133.2 619.0 132.5 620.0 132.0 C621.0 131.5 622.0 130.8 623.0 130.0 C624.0 129.2 625.0 128.3 626.0 127.5 C627.0 126.7 627.8 125.7 629.0 125.0 C630.2 124.3 631.7 123.9 633.0 123.5 C634.3 123.1 635.7 123.0 637.0 122.5 C638.3 122.0 639.7 121.0 641.0 120.5 C642.3 120.0 643.7 119.8 645.0 119.5 C646.3 119.2 647.7 118.7 649.0 118.5 C650.3 118.3 651.7 118.4 653.0 118.5 C654.3 118.6 655.8 118.5 657.0 119.0 C658.2 119.5 659.3 120.6 660.5 121.5 C661.7 122.4 662.9 123.6 664.0 124.5 C665.1 125.4 665.8 126.8 667.0 127.0 C668.2 127.2 669.7 125.3 671.0 125.5 C672.3 125.7 673.8 127.2 675.0 128.0 C676.2 128.8 677.0 130.2 678.0 130.0 C679.0 129.8 680.0 128.2 681.0 127.0 C682.0 125.8 683.0 124.2 684.0 123.0 C685.0 121.8 686.0 119.5 687.0 119.5 C688.0 119.5 689.0 121.4 690.0 123.0 C691.0 124.6 691.8 127.8 693.0 129.0 C694.2 130.2 695.7 130.2 697.0 130.5 C698.3 130.8 699.7 130.7 701.0 131.0 C702.3 131.3 703.7 132.1 705.0 132.5 C706.3 132.9 707.7 133.2 709.0 133.5 C710.3 133.8 712.0 134.0 713.0 134.0 C714.0 134.0 713.9 133.0 715.0 133.2 C716.1 133.5 718.0 135.0 719.5 135.5 C721.0 136.0 722.5 136.4 724.0 136.2 C725.5 136.1 727.0 135.1 728.5 134.8 C730.0 134.4 731.5 133.6 733.0 134.0 C734.5 134.4 736.0 135.8 737.5 137.0 C739.0 138.2 740.5 140.4 742.0 141.5 C743.5 142.6 744.8 143.2 746.5 143.8 C748.2 144.2 750.5 144.1 752.5 144.5 C754.5 144.9 756.8 145.5 758.5 146.0 C760.2 146.5 761.2 146.8 763.0 147.5 C764.8 148.2 767.0 149.5 769.0 150.5 C771.0 151.5 773.0 152.5 775.0 153.5 C777.0 154.5 779.0 155.1 781.0 156.5 C783.0 157.9 785.0 160.0 787.0 161.8 C789.0 163.5 791.0 165.4 793.0 167.0 C795.0 168.6 797.0 170.8 799.0 171.5 C801.0 172.2 803.0 171.0 805.0 171.5 C807.0 172.0 809.0 173.5 811.0 174.5 C813.0 175.5 815.0 176.4 817.0 177.5 C819.0 178.6 821.7 180.2 823.0 181.2 C824.3 182.3 823.7 183.5 825.0 184.0 C826.3 184.5 829.0 183.6 831.0 184.0 C833.0 184.4 835.0 186.1 837.0 186.2 C839.0 186.4 841.2 183.8 843.0 184.8 C844.8 185.8 846.0 190.4 847.5 192.2 C849.0 194.1 850.2 194.6 852.0 196.0 C853.8 197.4 856.0 199.2 858.0 200.5 C860.0 201.8 862.2 202.0 864.0 203.5 C865.8 205.0 866.8 207.4 868.5 209.5 C870.2 211.6 872.8 214.4 874.5 216.2 C876.2 218.1 877.2 219.5 879.0 220.8 C880.8 222.0 883.0 222.5 885.0 223.8 C887.0 225.0 889.0 226.6 891.0 228.2 C893.0 229.9 895.0 231.9 897.0 233.5 C899.0 235.1 901.2 236.8 903.0 238.0 C904.8 239.2 906.0 241.0 907.5 241.0 C909.0 241.0 910.5 238.6 912.0 238.0 C913.5 237.4 915.0 236.5 916.5 237.2 C918.0 238.0 919.6 240.7 921.0 242.5 C922.4 244.3 923.8 246.1 925.0 248.0 C926.2 249.9 926.8 251.5 928.0 254.0 C929.2 256.5 931.0 260.5 932.5 263.0 C934.0 265.5 935.5 267.2 937.0 269.0 C938.5 270.8 939.8 272.0 941.5 273.5 C943.2 275.0 945.5 276.5 947.5 278.0 C949.5 279.5 951.5 281.2 953.5 282.5 C955.5 283.8 957.8 284.5 959.5 285.5 C961.2 286.5 962.8 287.2 964.0 288.5 C965.2 289.8 966.0 290.8 967.0 293.0 C968.0 295.2 969.0 299.2 970.0 302.0 C971.0 304.8 971.5 307.8 973.0 309.5 C974.5 311.2 977.0 311.2 979.0 312.5 C981.0 313.8 983.5 315.9 985.0 317.0 C986.5 318.1 986.5 319.0 988.0 319.2 C989.5 319.5 991.2 315.0 994.0 318.5 C996.8 322.0 1002.7 335.3 1005.0 340.5 C1007.3 345.7 1006.8 346.8 1008.0 349.5 C1009.2 352.2 1010.8 354.8 1012.5 357.0 C1014.2 359.2 1016.5 361.0 1018.5 363.0 C1020.5 365.0 1022.5 367.2 1024.5 369.0 C1026.5 370.8 1028.8 372.6 1030.5 373.5 C1032.2 374.4 1033.5 374.6 1035.0 374.2 C1036.5 373.9 1038.0 371.5 1039.5 371.2 C1041.0 371.0 1042.5 372.1 1044.0 372.8 C1045.5 373.4 1047.0 376.0 1048.5 375.0 C1050.0 374.0 1051.5 368.4 1053.0 366.8 C1054.5 365.1 1056.0 365.2 1057.5 365.2 C1059.0 365.2 1060.5 366.1 1062.0 366.8 C1063.5 367.4 1065.2 368.7 1066.5 369.0 C1067.8 369.3 1068.6 368.3 1070.0 368.3 C1071.4 368.3 1073.1 367.8 1074.7 368.9 C1076.2 370.1 1078.0 373.1 1079.3 375.3 C1080.7 377.6 1081.5 380.4 1082.8 382.3 C1084.2 384.3 1085.9 386.8 1087.5 387.0 C1089.1 387.2 1090.8 384.4 1092.2 383.5 C1093.5 382.6 1094.3 381.7 1095.7 381.8 C1097.0 381.8 1098.8 383.3 1100.3 384.1 C1101.9 384.9 1103.4 385.7 1105.0 386.4 C1106.6 387.1 1108.1 387.8 1109.7 388.2 C1111.2 388.6 1112.8 388.2 1114.3 388.8 C1115.9 389.3 1117.4 390.4 1119.0 391.7 C1120.6 392.9 1122.1 396.1 1123.7 396.3 C1125.2 396.5 1126.8 393.3 1128.3 392.8 C1129.9 392.3 1131.4 393.0 1133.0 393.4 C1134.6 393.8 1136.1 394.3 1137.7 395.2 C1139.2 396.0 1141.0 397.8 1142.3 398.7 C1143.7 399.5 1144.7 400.5 1145.8 400.4 C1147.0 400.3 1148.4 398.8 1149.3 398.1 C1150.3 397.4 1150.7 395.7 1151.7 396.3 C1152.6 397.0 1154.0 400.6 1155.2 402.2 C1156.3 403.7 1157.3 405.7 1158.7 405.7 C1160.0 405.7 1162.0 402.0 1163.3 402.2 C1164.7 402.4 1165.9 405.3 1166.8 406.8 C1167.8 408.4 1168.8 410.7 1169.2 411.5" stroke="#6464f0" stroke-width="1.0" fill="none" stroke-linejoin="round" stroke-linecap="round"/><path d="M60.2 407.8 C60.6 407.6 61.5 406.4 62.5 407.0 C63.5 407.6 65.0 409.5 66.2 411.5 C67.5 413.5 68.6 416.5 70.0 419.0 C71.4 421.5 72.8 424.8 74.5 426.5 C76.2 428.2 78.9 429.0 80.5 429.5 C82.1 430.0 82.9 429.1 84.2 429.5 C85.6 429.9 87.2 432.4 88.8 431.8 C90.2 431.1 91.6 427.6 93.2 425.8 C94.9 423.9 96.9 421.8 98.5 420.5 C100.1 419.2 101.6 418.8 103.0 418.2 C104.4 417.8 105.5 418.9 106.8 417.5 C108.0 416.1 109.4 411.4 110.5 410.0 C111.6 408.6 112.5 409.0 113.5 409.2 C114.5 409.5 115.2 409.9 116.5 411.5 C117.8 413.1 119.5 416.5 121.0 419.0 C122.5 421.5 124.2 425.0 125.5 426.5 C126.8 428.0 127.5 428.5 128.5 428.0 C129.5 427.5 130.2 424.8 131.5 423.5 C132.8 422.2 134.5 421.8 136.0 420.5 C137.5 419.2 138.9 417.5 140.5 416.0 C142.1 414.5 144.0 412.6 145.8 411.5 C147.5 410.4 149.4 409.9 151.0 409.2 C152.6 408.6 154.0 408.6 155.5 407.8 C157.0 406.9 158.4 404.9 160.0 404.0 C161.6 403.1 163.7 404.0 165.0 402.5 C166.3 401.0 166.9 397.5 168.0 395.0 C169.1 392.5 170.8 387.8 171.8 387.5 C172.8 387.2 173.2 391.0 174.0 393.5 C174.8 396.0 175.5 400.4 176.2 402.5 C177.0 404.6 177.4 405.6 178.5 406.2 C179.6 406.9 181.5 406.8 183.0 406.2 C184.5 405.8 186.0 403.5 187.5 403.2 C189.0 403.0 190.5 404.4 192.0 404.8 C193.5 405.1 195.0 405.0 196.5 405.2 C198.0 405.4 199.5 405.0 201.0 405.8 C202.5 406.6 204.0 408.6 205.5 410.0 C207.0 411.4 208.8 413.8 210.0 414.5 C211.2 415.2 211.9 415.6 213.0 414.5 C214.1 413.4 215.5 409.8 216.8 407.8 C218.0 405.8 219.1 403.8 220.5 402.5 C221.9 401.2 223.5 401.0 225.0 400.2 C226.5 399.5 228.0 398.5 229.5 398.0 C231.0 397.5 232.5 397.5 234.0 397.2 C235.5 397.0 237.0 396.8 238.5 396.5 C240.0 396.2 241.5 395.9 243.0 395.8 C244.5 395.6 246.0 395.8 247.5 395.8 C249.0 395.8 250.8 395.2 252.0 395.8 C253.2 396.2 254.0 398.4 255.0 398.8 C256.0 399.1 256.8 398.9 258.0 398.0 C259.2 397.1 261.0 395.5 262.5 393.5 C264.0 391.5 265.5 388.5 267.0 386.0 C268.5 383.5 270.2 380.5 271.5 378.5 C272.8 376.5 273.7 376.0 275.0 374.0 C276.3 372.0 278.0 368.8 279.5 366.5 C281.0 364.2 282.5 362.1 284.0 360.5 C285.5 358.9 287.2 357.8 288.5 356.8 C289.8 355.8 290.5 355.6 291.5 354.5 C292.5 353.4 293.2 352.0 294.5 350.0 C295.8 348.0 297.2 344.2 299.0 342.5 C300.8 340.8 303.2 339.9 305.0 339.5 C306.8 339.1 308.0 339.8 309.5 340.2 C311.0 340.8 312.5 341.9 314.0 342.5 C315.5 343.1 317.0 344.2 318.5 344.0 C320.0 343.8 321.5 342.2 323.0 341.0 C324.5 339.8 326.0 338.0 327.5 336.5 C329.0 335.0 330.5 333.4 332.0 332.0 C333.5 330.6 335.0 328.4 336.5 328.2 C338.0 328.1 339.5 331.9 341.0 331.2 C342.5 330.6 344.0 326.4 345.5 324.5 C347.0 322.6 348.5 321.1 350.0 320.0 C351.5 318.9 353.0 318.1 354.5 317.8 C356.0 317.4 357.5 317.8 359.0 317.8 C360.5 317.8 362.0 318.2 363.5 317.8 C365.0 317.2 366.5 315.9 368.0 314.8 C369.5 313.6 371.0 312.6 372.5 311.0 C374.0 309.4 375.8 307.2 377.0 305.0 C378.2 302.8 379.0 299.8 380.0 297.5 C381.0 295.2 382.2 294.2 383.0 291.5 C383.8 288.8 383.9 283.6 385.0 281.0 C386.1 278.4 388.0 277.4 389.5 275.8 C391.0 274.1 392.5 272.5 394.0 271.2 C395.5 270.0 397.0 269.0 398.5 268.2 C400.0 267.5 401.5 267.4 403.0 266.8 C404.5 266.1 406.0 265.4 407.5 264.5 C409.0 263.6 410.5 262.4 412.0 261.5 C413.5 260.6 415.0 260.2 416.5 259.2 C418.0 258.2 419.5 256.6 421.0 255.5 C422.5 254.4 424.0 253.5 425.5 252.5 C427.0 251.5 428.5 250.2 430.0 249.5 C431.5 248.8 433.2 248.0 434.5 248.0 C435.8 248.0 436.2 249.5 437.5 249.5 C438.8 249.5 440.5 248.8 442.0 248.0 C443.5 247.2 445.0 246.2 446.5 245.0 C448.0 243.8 449.5 242.4 451.0 240.5 C452.5 238.6 454.2 235.9 455.5 233.8 C456.8 231.6 457.5 228.6 458.5 227.8 C459.5 226.9 460.2 228.6 461.5 228.5 C462.8 228.4 464.5 228.0 466.0 227.0 C467.5 226.0 469.0 224.2 470.5 222.5 C472.0 220.8 473.5 217.8 475.0 216.5 C476.5 215.2 478.0 215.4 479.5 215.0 C481.0 214.6 482.5 214.8 484.0 214.2 C485.5 213.8 487.0 213.1 488.5 212.0 C490.0 210.9 491.5 209.0 493.0 207.5 C494.5 206.0 495.9 204.2 497.5 203.0 C499.1 201.8 500.9 201.0 502.5 200.0 C504.1 199.0 505.5 198.0 507.0 197.0 C508.5 196.0 510.0 195.0 511.5 194.0 C513.0 193.0 514.5 192.2 516.0 191.0 C517.5 189.8 519.0 188.5 520.5 186.5 C522.0 184.5 523.5 180.8 525.0 179.0 C526.5 177.2 528.0 177.2 529.5 176.0 C531.0 174.8 532.5 173.0 534.0 171.5 C535.5 170.0 537.0 168.1 538.5 167.0 C540.0 165.9 541.5 165.5 543.0 164.8 C544.5 164.0 546.0 163.1 547.5 162.5 C549.0 161.9 550.5 161.5 552.0 161.0 C553.5 160.5 555.0 160.5 556.5 159.5 C558.0 158.5 559.5 156.8 561.0 155.0 C562.5 153.2 564.0 150.8 565.5 149.0 C567.0 147.2 568.5 145.6 570.0 144.5 C571.5 143.4 573.0 142.8 574.5 142.2 C576.0 141.8 577.5 141.1 579.0 141.5 C580.5 141.9 582.2 143.5 583.5 144.5 C584.8 145.5 585.2 147.5 586.5 147.5 C587.8 147.5 589.5 145.6 591.0 144.5 C592.5 143.4 594.0 141.9 595.5 140.8 C597.0 139.6 598.5 138.9 600.0 137.8 C601.5 136.6 603.7 134.6 604.5 134.0 C605.3 133.4 604.4 134.3 605.0 134.0 C605.6 133.7 607.0 132.8 608.0 132.0 C609.0 131.2 609.8 130.5 611.0 129.5 C612.2 128.5 613.7 126.8 615.0 126.0 C616.3 125.2 617.7 125.0 619.0 124.5 C620.3 124.0 621.7 123.4 623.0 123.0 C624.3 122.6 625.7 122.2 627.0 122.0 C628.3 121.8 629.7 121.7 631.0 121.5 C632.3 121.3 633.7 121.0 635.0 121.0 C636.3 121.0 637.7 121.3 639.0 121.8 C640.3 122.3 641.7 123.1 643.0 124.0 C644.3 124.9 645.7 125.9 647.0 127.0 C648.3 128.1 649.8 130.1 651.0 130.5 C652.2 130.9 653.0 130.3 654.0 129.5 C655.0 128.7 655.8 126.8 657.0 125.5 C658.2 124.2 659.7 122.6 661.0 121.5 C662.3 120.4 663.7 119.7 665.0 119.0 C666.3 118.3 667.7 117.5 669.0 117.2 C670.3 116.9 671.7 116.9 673.0 117.0 C674.3 117.1 675.7 118.0 677.0 117.8 C678.3 117.6 679.8 116.7 681.0 116.0 C682.2 115.3 683.0 113.8 684.0 113.5 C685.0 113.2 685.8 113.2 687.0 114.0 C688.2 114.8 689.7 116.5 691.0 118.0 C692.3 119.5 693.7 121.5 695.0 123.0 C696.3 124.5 697.7 126.4 699.0 127.0 C700.3 127.6 701.7 127.2 703.0 126.5 C704.3 125.8 705.7 123.6 707.0 122.5 C708.3 121.4 709.8 120.8 711.0 120.0 C712.2 119.2 713.3 118.2 714.0 118.0 C714.7 117.8 714.3 118.3 715.0 119.0 C715.7 119.7 717.0 120.4 718.0 122.0 C719.0 123.6 719.8 126.9 721.0 128.8 C722.2 130.6 724.0 132.4 725.5 133.2 C727.0 134.1 728.5 134.1 730.0 134.0 C731.5 133.9 733.0 132.9 734.5 132.5 C736.0 132.1 737.5 131.8 739.0 131.8 C740.5 131.8 742.0 131.8 743.5 132.5 C745.0 133.2 746.2 135.8 748.0 136.2 C749.8 136.8 752.2 135.1 754.0 135.5 C755.8 135.9 757.2 136.8 758.5 138.5 C759.8 140.2 760.2 144.0 761.5 146.0 C762.8 148.0 764.2 149.5 766.0 150.5 C767.8 151.5 770.2 151.0 772.0 152.0 C773.8 153.0 774.8 155.1 776.5 156.5 C778.2 157.9 780.5 158.8 782.5 160.2 C784.5 161.8 786.5 163.9 788.5 165.5 C790.5 167.1 792.5 168.8 794.5 170.0 C796.5 171.2 798.5 172.8 800.5 173.0 C802.5 173.2 804.5 171.0 806.5 171.5 C808.5 172.0 810.2 174.5 812.5 176.0 C814.8 177.5 817.9 179.4 820.0 180.5 C822.1 181.6 823.4 181.8 825.0 182.5 C826.6 183.2 828.0 183.9 829.5 184.8 C831.0 185.6 832.2 186.9 834.0 187.8 C835.8 188.6 838.0 188.6 840.0 190.0 C842.0 191.4 844.2 194.6 846.0 196.0 C847.8 197.4 849.0 198.2 850.5 198.7 C852.0 199.2 853.2 198.9 855.0 199.0 C856.8 199.1 859.2 199.2 861.0 199.3 C862.8 199.4 864.0 199.1 865.5 199.8 C867.0 200.4 868.5 201.9 870.0 203.5 C871.5 205.1 873.0 207.8 874.5 209.5 C876.0 211.2 877.5 211.8 879.0 214.0 C880.5 216.2 882.0 219.8 883.5 223.0 C885.0 226.2 886.5 231.0 888.0 233.5 C889.5 236.0 890.8 237.2 892.5 238.0 C894.2 238.8 896.5 237.5 898.5 238.0 C900.5 238.5 902.5 240.0 904.5 241.0 C906.5 242.0 908.8 242.8 910.5 244.0 C912.2 245.2 912.6 245.7 915.0 248.5 C917.4 251.3 922.6 258.5 925.0 260.8 C927.4 263.0 928.0 262.0 929.5 262.2 C931.0 262.5 932.5 261.5 934.0 262.2 C935.5 263.0 937.0 264.9 938.5 266.8 C940.0 268.6 941.2 271.9 943.0 273.5 C944.8 275.1 947.2 275.5 949.0 276.5 C950.8 277.5 952.0 278.6 953.5 279.5 C955.0 280.4 956.5 281.1 958.0 281.8 C959.5 282.4 961.0 282.5 962.5 283.2 C964.0 284.0 965.5 285.1 967.0 286.2 C968.5 287.4 970.0 288.2 971.5 290.0 C973.0 291.8 974.8 295.1 976.0 296.8 C977.2 298.4 977.5 299.1 979.0 299.8 C980.5 300.4 983.2 299.9 985.0 300.5 C986.8 301.1 988.0 302.2 989.5 303.5 C991.0 304.8 992.5 307.1 994.0 308.0 C995.5 308.9 997.2 307.5 998.5 308.8 C999.8 310.0 1000.4 313.0 1001.5 315.5 C1002.6 318.0 1003.9 321.6 1005.0 324.0 C1006.1 326.4 1007.0 328.6 1008.0 330.0 C1009.0 331.4 1009.8 332.8 1011.0 332.2 C1012.2 331.8 1014.0 328.8 1015.5 327.0 C1017.0 325.2 1018.5 322.5 1020.0 321.8 C1021.5 321.0 1023.0 321.1 1024.5 322.5 C1026.0 323.9 1027.8 327.2 1029.0 330.0 C1030.2 332.8 1031.0 336.0 1032.0 339.0 C1033.0 342.0 1033.8 345.5 1035.0 348.0 C1036.2 350.5 1038.0 352.1 1039.5 354.0 C1041.0 355.9 1042.5 358.2 1044.0 359.2 C1045.5 360.2 1047.0 360.6 1048.5 360.0 C1050.0 359.4 1051.5 357.4 1053.0 355.5 C1054.5 353.6 1056.2 349.6 1057.5 348.8 C1058.8 347.9 1059.5 349.1 1060.5 350.2 C1061.5 351.4 1062.2 353.4 1063.5 355.5 C1064.8 357.6 1066.9 360.9 1068.0 363.0 C1069.1 365.1 1068.9 367.2 1070.0 368.3 C1071.1 369.5 1073.1 369.6 1074.7 370.1 C1076.2 370.6 1077.8 370.9 1079.3 371.2 C1080.9 371.6 1082.4 372.4 1084.0 372.4 C1085.6 372.4 1087.1 371.0 1088.7 371.2 C1090.2 371.5 1092.0 372.7 1093.3 374.2 C1094.7 375.6 1095.5 378.2 1096.8 380.0 C1098.2 381.8 1099.9 383.7 1101.5 384.7 C1103.1 385.6 1104.6 385.2 1106.2 385.8 C1107.7 386.4 1109.3 387.7 1110.8 388.2 C1112.4 388.7 1113.9 388.8 1115.5 388.8 C1117.1 388.7 1118.6 387.3 1120.2 387.6 C1121.7 387.9 1123.5 389.2 1124.8 390.5 C1126.2 391.8 1127.4 393.4 1128.3 395.2 C1129.3 396.9 1129.7 399.8 1130.7 401.0 C1131.6 402.2 1133.0 402.4 1134.2 402.2 C1135.3 402.0 1136.3 400.6 1137.7 399.8 C1139.0 399.1 1140.8 398.3 1142.3 397.5 C1143.9 396.7 1145.4 396.0 1147.0 395.2 C1148.6 394.3 1150.3 392.2 1151.7 392.2 C1153.0 392.2 1154.0 393.5 1155.2 395.2 C1156.3 396.8 1157.5 400.6 1158.7 402.2 C1159.8 403.7 1161.0 404.1 1162.2 404.5 C1163.3 404.9 1164.5 404.3 1165.7 404.5 C1166.8 404.7 1168.6 405.5 1169.2 405.7" stroke="#55a055" stroke-width="1.0" fill="none" stroke-linejoin="round" stroke-linecap="round"/><path d="M60.2 394.2 C60.8 393.9 62.1 393.1 63.2 392.0 C64.4 390.9 65.9 388.6 67.0 387.5 C68.1 386.4 69.0 385.2 70.0 385.2 C71.0 385.2 72.0 386.9 73.0 387.5 C74.0 388.1 75.0 387.8 76.0 389.0 C77.0 390.2 78.0 393.0 79.0 395.0 C80.0 397.0 81.0 398.8 82.0 401.0 C83.0 403.2 83.8 406.8 85.0 408.5 C86.2 410.2 87.9 410.5 89.5 411.5 C91.1 412.5 93.2 414.2 94.8 414.5 C96.2 414.8 97.1 414.8 98.5 413.0 C99.9 411.2 101.5 406.5 103.0 404.0 C104.5 401.5 106.1 399.2 107.5 398.0 C108.9 396.8 110.0 396.2 111.2 396.5 C112.5 396.8 113.9 398.5 115.0 399.5 C116.1 400.5 116.8 401.9 118.0 402.5 C119.2 403.1 121.0 402.6 122.5 402.8 C124.0 403.1 125.5 403.1 127.0 404.0 C128.5 404.9 130.0 406.8 131.5 408.5 C133.0 410.2 134.5 412.6 136.0 414.5 C137.5 416.4 139.0 418.8 140.5 419.8 C142.0 420.8 143.6 420.5 145.0 420.5 C146.4 420.5 147.6 421.0 148.8 419.8 C149.9 418.5 150.6 414.9 151.8 413.0 C152.9 411.1 154.1 409.2 155.5 408.5 C156.9 407.8 158.5 409.2 160.0 408.5 C161.5 407.8 163.7 404.1 164.5 404.0 C165.3 403.9 164.2 407.8 165.0 407.8 C165.8 407.8 168.0 405.2 169.5 404.0 C171.0 402.8 172.2 401.6 174.0 400.2 C175.8 398.9 178.2 396.0 180.0 395.8 C181.8 395.5 183.0 398.0 184.5 398.8 C186.0 399.5 187.8 400.1 189.0 400.2 C190.2 400.4 190.8 400.3 192.0 399.5 C193.2 398.7 195.0 395.7 196.5 395.3 C198.0 394.9 199.5 396.4 201.0 397.2 C202.5 398.1 204.0 399.1 205.5 400.2 C207.0 401.4 208.5 404.2 210.0 404.0 C211.5 403.8 213.0 400.0 214.5 398.8 C216.0 397.5 217.5 396.2 219.0 396.5 C220.5 396.8 222.0 399.4 223.5 400.2 C225.0 401.1 226.5 402.6 228.0 401.8 C229.5 400.9 231.2 397.2 232.5 395.0 C233.8 392.8 234.2 389.6 235.5 388.2 C236.8 386.9 238.5 387.8 240.0 386.8 C241.5 385.8 243.0 382.4 244.5 382.2 C246.0 382.1 247.8 385.4 249.0 386.0 C250.2 386.6 250.8 387.5 252.0 386.0 C253.2 384.5 255.2 379.2 256.5 377.0 C257.8 374.8 258.5 372.5 259.5 372.5 C260.5 372.5 261.5 375.0 262.5 377.0 C263.5 379.0 264.2 383.2 265.5 384.5 C266.8 385.8 268.5 384.1 270.0 384.5 C271.5 384.9 273.0 386.0 274.5 386.8 C276.0 387.5 277.5 389.1 279.0 389.0 C280.5 388.9 280.9 387.5 283.5 386.0 C286.1 384.5 292.2 382.0 294.5 380.0 C296.8 378.0 296.2 376.5 297.5 374.0 C298.8 371.5 300.5 367.2 302.0 365.0 C303.5 362.8 305.0 361.4 306.5 360.5 C308.0 359.6 309.5 360.2 311.0 359.8 C312.5 359.2 314.0 359.6 315.5 357.5 C317.0 355.4 318.5 349.8 320.0 347.0 C321.5 344.2 323.0 342.8 324.5 341.0 C326.0 339.2 327.5 337.5 329.0 336.5 C330.5 335.5 332.2 334.8 333.5 335.0 C334.8 335.2 335.5 338.5 336.5 338.0 C337.5 337.5 338.2 334.2 339.5 332.0 C340.8 329.8 342.5 327.5 344.0 324.5 C345.5 321.5 347.0 316.5 348.5 314.0 C350.0 311.5 351.5 311.0 353.0 309.5 C354.5 308.0 355.8 306.4 357.5 305.0 C359.2 303.6 361.8 301.4 363.5 301.2 C365.2 301.1 366.5 304.1 368.0 304.2 C369.5 304.4 371.0 303.4 372.5 302.0 C374.0 300.6 375.5 297.9 377.0 296.0 C378.5 294.1 380.2 292.0 381.5 290.8 C382.8 289.5 383.7 289.4 385.0 288.5 C386.3 287.6 388.0 286.9 389.5 285.5 C391.0 284.1 392.2 281.8 394.0 280.2 C395.8 278.8 398.2 277.6 400.0 276.5 C401.8 275.4 403.0 274.5 404.5 273.5 C406.0 272.5 407.5 272.0 409.0 270.5 C410.5 269.0 412.0 266.8 413.5 264.5 C415.0 262.2 416.8 258.1 418.0 256.7 C419.2 255.3 419.8 256.2 421.0 256.2 C422.2 256.3 424.0 257.1 425.5 257.0 C427.0 256.9 428.5 255.5 430.0 255.5 C431.5 255.5 433.0 256.9 434.5 257.0 C436.0 257.1 437.5 257.0 439.0 256.2 C440.5 255.5 442.0 253.9 443.5 252.5 C445.0 251.1 446.5 249.5 448.0 248.0 C449.5 246.5 451.0 245.0 452.5 243.5 C454.0 242.0 455.5 240.5 457.0 239.0 C458.5 237.5 460.0 236.0 461.5 234.5 C463.0 233.0 464.5 231.2 466.0 230.0 C467.5 228.8 469.0 228.2 470.5 227.0 C472.0 225.8 473.5 224.0 475.0 222.5 C476.5 221.0 478.0 219.0 479.5 218.0 C481.0 217.0 482.5 217.2 484.0 216.5 C485.5 215.8 487.0 214.8 488.5 213.5 C490.0 212.2 491.5 210.8 493.0 209.0 C494.5 207.2 495.2 204.5 497.5 203.0 C499.8 201.5 504.7 201.2 507.0 200.0 C509.3 198.8 510.0 197.2 511.5 195.5 C513.0 193.8 514.5 191.5 516.0 189.5 C517.5 187.5 519.1 185.6 520.5 183.5 C521.9 181.4 523.0 178.0 524.2 176.8 C525.5 175.5 526.6 176.5 528.0 176.0 C529.4 175.5 531.0 174.5 532.5 173.8 C534.0 173.0 535.5 172.4 537.0 171.5 C538.5 170.6 540.0 169.5 541.5 168.5 C543.0 167.5 544.5 166.4 546.0 165.5 C547.5 164.6 549.0 164.2 550.5 163.2 C552.0 162.2 553.5 160.2 555.0 159.5 C556.5 158.8 557.8 159.0 559.5 158.8 C561.2 158.5 563.8 158.2 565.5 158.0 C567.2 157.8 568.5 157.6 570.0 157.2 C571.5 156.9 573.1 155.6 574.5 155.8 C575.9 155.9 577.0 158.1 578.2 158.0 C579.5 157.9 580.6 156.2 582.0 155.0 C583.4 153.8 585.0 152.2 586.5 150.5 C588.0 148.8 589.5 146.2 591.0 144.5 C592.5 142.8 594.0 141.5 595.5 140.0 C597.0 138.5 598.5 137.0 600.0 135.5 C601.5 134.0 603.7 131.9 604.5 131.0 C605.3 130.1 604.2 130.4 605.0 130.0 C605.8 129.6 607.7 128.8 609.0 128.5 C610.3 128.2 611.7 128.0 613.0 128.0 C614.3 128.0 615.7 128.6 617.0 128.5 C618.3 128.4 619.7 127.8 621.0 127.5 C622.3 127.2 623.7 127.2 625.0 127.0 C626.3 126.8 627.7 126.7 629.0 126.5 C630.3 126.3 631.7 126.4 633.0 126.0 C634.3 125.6 635.7 124.8 637.0 124.0 C638.3 123.2 639.7 121.6 641.0 121.0 C642.3 120.4 643.7 120.4 645.0 120.5 C646.3 120.6 647.7 121.2 649.0 121.5 C650.3 121.8 651.7 122.4 653.0 122.5 C654.3 122.6 655.7 122.4 657.0 122.0 C658.3 121.6 659.7 120.5 661.0 120.0 C662.3 119.5 663.7 119.1 665.0 119.0 C666.3 118.9 667.7 119.4 669.0 119.5 C670.3 119.6 671.7 119.6 673.0 119.5 C674.3 119.4 675.7 119.1 677.0 119.0 C678.3 118.9 679.7 118.9 681.0 119.0 C682.3 119.1 683.7 119.4 685.0 119.5 C686.3 119.6 687.7 119.4 689.0 119.5 C690.3 119.6 691.7 119.8 693.0 120.0 C694.3 120.2 695.7 120.4 697.0 121.0 C698.3 121.6 699.7 122.7 701.0 123.5 C702.3 124.3 703.7 125.4 705.0 126.0 C706.3 126.6 707.7 126.9 709.0 127.0 C710.3 127.1 712.0 126.6 713.0 126.5 C714.0 126.4 713.9 126.5 715.0 126.5 C716.1 126.5 718.0 126.0 719.5 126.5 C721.0 127.0 722.2 128.6 724.0 129.5 C725.8 130.4 728.0 131.1 730.0 131.8 C732.0 132.4 734.0 132.6 736.0 133.2 C738.0 133.9 740.0 134.4 742.0 135.5 C744.0 136.6 746.0 139.0 748.0 140.0 C750.0 141.0 752.0 140.5 754.0 141.5 C756.0 142.5 758.0 144.2 760.0 146.0 C762.0 147.8 764.0 150.9 766.0 152.0 C768.0 153.1 770.0 152.6 772.0 152.8 C774.0 152.9 776.0 152.4 778.0 152.8 C780.0 153.1 782.0 154.6 784.0 155.0 C786.0 155.4 788.0 154.9 790.0 155.0 C792.0 155.1 794.2 155.1 796.0 155.8 C797.8 156.4 798.8 158.1 800.5 158.8 C802.2 159.4 804.5 158.5 806.5 159.5 C808.5 160.5 810.5 163.2 812.5 164.8 C814.5 166.2 816.8 167.5 818.5 168.5 C820.2 169.5 821.9 170.0 823.0 170.8 C824.1 171.5 823.7 171.8 825.0 172.8 C826.3 173.7 829.0 174.9 831.0 176.5 C833.0 178.1 835.2 180.4 837.0 182.5 C838.8 184.6 840.0 187.5 841.5 189.2 C843.0 191.0 844.2 191.8 846.0 193.0 C847.8 194.2 850.0 195.5 852.0 196.8 C854.0 198.0 856.0 199.1 858.0 200.5 C860.0 201.9 862.0 203.9 864.0 205.0 C866.0 206.1 868.2 206.8 870.0 207.2 C871.8 207.8 873.0 207.4 874.5 208.0 C876.0 208.6 877.5 209.8 879.0 211.0 C880.5 212.2 882.0 213.8 883.5 215.5 C885.0 217.2 886.2 220.1 888.0 221.5 C889.8 222.9 892.0 222.5 894.0 223.8 C896.0 225.0 898.0 228.1 900.0 229.0 C902.0 229.9 904.2 228.8 906.0 229.0 C907.8 229.2 909.0 229.2 910.5 230.5 C912.0 231.8 913.2 234.9 915.0 236.5 C916.8 238.1 919.3 239.5 921.0 240.2 C922.7 241.0 923.6 240.3 925.0 241.2 C926.4 242.2 928.0 243.9 929.5 245.8 C931.0 247.6 932.2 250.4 934.0 252.5 C935.8 254.6 938.2 257.8 940.0 258.5 C941.8 259.2 942.8 257.8 944.5 257.0 C946.2 256.2 948.8 254.4 950.5 254.0 C952.2 253.6 953.5 254.6 955.0 254.8 C956.5 254.9 958.2 254.4 959.5 254.8 C960.8 255.1 961.5 255.6 962.5 257.0 C963.5 258.4 964.2 260.5 965.5 263.0 C966.8 265.5 968.5 269.0 970.0 272.0 C971.5 275.0 973.0 277.8 974.5 281.0 C976.0 284.2 977.5 288.8 979.0 291.5 C980.5 294.2 982.0 295.2 983.5 297.5 C985.0 299.8 986.5 303.0 988.0 305.0 C989.5 307.0 991.0 307.8 992.5 309.5 C994.0 311.2 994.9 313.2 997.0 315.5 C999.1 317.8 1002.9 321.5 1005.0 323.2 C1007.1 325.0 1008.0 325.8 1009.5 326.2 C1011.0 326.8 1012.5 326.5 1014.0 326.2 C1015.5 326.0 1017.0 324.9 1018.5 324.8 C1020.0 324.6 1021.2 325.1 1023.0 325.5 C1024.8 325.9 1027.2 326.2 1029.0 327.0 C1030.8 327.8 1032.0 328.8 1033.5 330.0 C1035.0 331.2 1036.5 332.8 1038.0 334.5 C1039.5 336.2 1041.0 338.0 1042.5 340.5 C1044.0 343.0 1045.5 347.8 1047.0 349.5 C1048.5 351.2 1050.0 350.6 1051.5 351.0 C1053.0 351.4 1054.5 351.6 1056.0 351.8 C1057.5 351.9 1059.0 351.9 1060.5 351.8 C1062.0 351.6 1063.5 350.9 1065.0 351.0 C1066.5 351.1 1068.7 352.2 1069.5 352.5 C1070.3 352.8 1069.1 352.3 1070.0 352.6 C1070.9 352.9 1073.3 353.0 1074.7 354.3 C1076.0 355.7 1077.0 358.8 1078.2 360.8 C1079.3 362.7 1080.1 364.5 1081.7 366.0 C1083.2 367.5 1085.9 368.1 1087.5 369.5 C1089.1 370.9 1089.8 372.2 1091.0 374.2 C1092.2 376.1 1093.3 379.4 1094.5 381.2 C1095.7 382.9 1096.6 384.0 1098.0 384.7 C1099.4 385.3 1101.1 385.4 1102.7 385.2 C1104.2 385.1 1106.0 384.6 1107.3 383.5 C1108.7 382.4 1109.7 380.0 1110.8 378.8 C1112.0 377.7 1113.0 376.8 1114.3 376.5 C1115.7 376.2 1117.6 377.3 1119.0 377.1 C1120.4 376.9 1121.1 375.8 1122.5 375.3 C1123.9 374.8 1125.8 374.7 1127.2 374.2 C1128.5 373.7 1129.5 373.4 1130.7 372.4 C1131.8 371.4 1133.0 369.2 1134.2 368.3 C1135.3 367.5 1136.5 367.0 1137.7 367.2 C1138.8 367.4 1139.8 369.2 1141.2 369.5 C1142.5 369.8 1144.3 368.8 1145.8 368.9 C1147.4 369.0 1149.1 370.1 1150.5 370.1 C1151.9 370.1 1152.6 367.8 1154.0 368.9 C1155.4 370.0 1157.3 374.3 1158.7 376.5 C1160.0 378.7 1161.0 380.4 1162.2 382.3 C1163.3 384.3 1164.5 386.8 1165.7 388.2 C1166.8 389.5 1168.6 390.1 1169.2 390.5" stroke="#efd04a" stroke-width="1.0" fill="none" stroke-linejoin="round" stroke-linecap="round"/><path d="M60.2 381.5 C60.9 381.0 62.9 378.0 64.0 378.5 C65.1 379.0 65.8 382.8 67.0 384.5 C68.2 386.2 70.0 387.6 71.5 389.0 C73.0 390.4 74.6 391.5 76.0 392.8 C77.4 394.0 78.6 394.9 79.8 396.5 C80.9 398.1 81.6 400.0 82.8 402.5 C83.9 405.0 85.1 410.2 86.5 411.5 C87.9 412.8 89.5 410.8 91.0 410.0 C92.5 409.2 94.0 408.4 95.5 407.0 C97.0 405.6 98.5 403.5 100.0 401.8 C101.5 400.0 103.0 397.2 104.5 396.5 C106.0 395.8 107.4 396.4 109.0 397.2 C110.6 398.1 112.8 400.2 114.2 401.8 C115.8 403.2 116.6 405.0 118.0 406.2 C119.4 407.5 121.0 409.0 122.5 409.2 C124.0 409.5 125.5 408.8 127.0 407.8 C128.5 406.8 130.0 405.1 131.5 403.2 C133.0 401.4 134.6 396.9 136.0 396.5 C137.4 396.1 138.5 399.4 139.8 401.0 C141.0 402.6 142.1 405.0 143.5 406.2 C144.9 407.5 146.5 408.1 148.0 408.5 C149.5 408.9 151.0 409.6 152.5 408.5 C154.0 407.4 155.2 403.5 157.0 401.8 C158.8 400.0 161.7 397.6 163.0 398.0 C164.3 398.4 164.2 402.6 165.0 404.0 C165.8 405.4 166.8 405.4 168.0 406.2 C169.2 407.1 171.0 408.8 172.5 409.2 C174.0 409.8 175.5 409.5 177.0 409.2 C178.5 409.0 180.0 408.6 181.5 407.8 C183.0 406.9 184.2 404.8 186.0 404.0 C187.8 403.2 190.0 403.8 192.0 403.2 C194.0 402.8 196.0 401.4 198.0 401.0 C200.0 400.6 202.2 401.5 204.0 401.0 C205.8 400.5 207.0 399.1 208.5 398.0 C210.0 396.9 211.5 395.2 213.0 394.2 C214.5 393.2 216.0 392.1 217.5 392.0 C219.0 391.9 220.5 392.9 222.0 393.5 C223.5 394.1 225.2 395.9 226.5 395.8 C227.8 395.6 228.2 393.1 229.5 392.8 C230.8 392.4 232.5 393.1 234.0 393.5 C235.5 393.9 237.0 395.0 238.5 395.0 C240.0 395.0 241.5 394.0 243.0 393.5 C244.5 393.0 246.0 392.1 247.5 392.0 C249.0 391.9 250.5 392.0 252.0 392.8 C253.5 393.5 255.0 396.2 256.5 396.5 C258.0 396.8 259.5 395.5 261.0 394.2 C262.5 393.0 264.0 390.6 265.5 389.0 C267.0 387.4 268.5 386.0 270.0 384.5 C271.5 383.0 273.7 381.2 274.5 380.0 C275.3 378.8 274.2 379.2 275.0 377.0 C275.8 374.8 278.0 369.0 279.5 366.5 C281.0 364.0 282.5 363.4 284.0 362.0 C285.5 360.6 287.0 358.8 288.5 358.2 C290.0 357.8 291.5 358.6 293.0 359.0 C294.5 359.4 296.0 361.0 297.5 360.5 C299.0 360.0 300.5 357.2 302.0 356.0 C303.5 354.8 305.0 354.2 306.5 353.0 C308.0 351.8 309.6 351.0 311.0 348.5 C312.4 346.0 313.5 339.5 314.8 338.0 C316.0 336.5 317.1 339.8 318.5 339.5 C319.9 339.2 321.5 337.8 323.0 336.5 C324.5 335.2 326.1 333.4 327.5 332.0 C328.9 330.6 330.0 328.8 331.2 328.2 C332.5 327.8 333.6 327.8 335.0 329.0 C336.4 330.2 338.0 335.2 339.5 335.8 C341.0 336.2 342.5 333.6 344.0 332.0 C345.5 330.4 347.0 328.5 348.5 326.0 C350.0 323.5 351.5 319.5 353.0 317.0 C354.5 314.5 356.0 312.0 357.5 311.0 C359.0 310.0 360.5 310.8 362.0 311.0 C363.5 311.2 365.0 312.1 366.5 312.5 C368.0 312.9 369.5 313.5 371.0 313.2 C372.5 313.0 374.0 312.1 375.5 311.0 C377.0 309.9 378.5 308.0 380.0 306.5 C381.5 305.0 383.0 303.6 384.5 302.0 C386.0 300.4 387.5 297.4 389.0 296.8 C390.5 296.1 390.4 299.4 393.5 298.2 C396.6 297.1 404.4 293.1 407.5 290.0 C410.6 286.9 410.5 282.8 412.0 279.5 C413.5 276.2 415.0 273.0 416.5 270.5 C418.0 268.0 419.5 265.8 421.0 264.5 C422.5 263.2 424.0 263.9 425.5 263.0 C427.0 262.1 428.5 260.5 430.0 259.2 C431.5 258.0 433.0 256.9 434.5 255.5 C436.0 254.1 437.5 252.5 439.0 251.0 C440.5 249.5 442.0 248.2 443.5 246.5 C445.0 244.8 446.5 242.5 448.0 240.5 C449.5 238.5 451.2 236.5 452.5 234.5 C453.8 232.5 454.5 230.5 455.5 228.5 C456.5 226.5 457.2 223.6 458.5 222.5 C459.8 221.4 461.5 222.1 463.0 221.8 C464.5 221.4 466.0 220.9 467.5 220.2 C469.0 219.6 470.8 219.0 472.0 218.0 C473.2 217.0 474.0 215.6 475.0 214.2 C476.0 212.9 476.8 210.9 478.0 209.8 C479.2 208.6 481.0 208.6 482.5 207.5 C484.0 206.4 484.9 204.6 487.0 203.0 C489.1 201.4 492.9 199.1 495.0 197.8 C497.1 196.4 498.0 196.4 499.5 194.8 C501.0 193.1 502.2 189.8 504.0 188.0 C505.8 186.2 508.0 185.2 510.0 184.2 C512.0 183.2 514.2 182.1 516.0 182.0 C517.8 181.9 519.0 182.8 520.5 183.5 C522.0 184.2 523.5 187.1 525.0 186.5 C526.5 185.9 528.0 181.8 529.5 179.8 C531.0 177.8 532.2 176.1 534.0 174.5 C535.8 172.9 538.0 171.5 540.0 170.0 C542.0 168.5 544.0 167.1 546.0 165.5 C548.0 163.9 550.2 161.8 552.0 160.2 C553.8 158.8 555.0 158.0 556.5 156.5 C558.0 155.0 559.5 152.8 561.0 151.2 C562.5 149.8 564.0 148.8 565.5 147.5 C567.0 146.2 568.5 144.8 570.0 143.8 C571.5 142.8 573.0 142.8 574.5 141.5 C576.0 140.2 577.5 137.4 579.0 136.2 C580.5 135.1 582.0 135.6 583.5 134.8 C585.0 133.9 586.5 132.1 588.0 131.0 C589.5 129.9 591.0 128.4 592.5 128.3 C594.0 128.2 595.5 130.7 597.0 130.2 C598.5 129.8 600.2 127.1 601.5 125.8 C602.8 124.4 603.8 123.0 605.0 122.0 C606.2 121.0 607.7 119.8 609.0 119.5 C610.3 119.2 611.7 120.2 613.0 120.5 C614.3 120.8 615.7 121.3 617.0 121.2 C618.3 121.1 619.7 120.4 621.0 120.0 C622.3 119.6 623.7 119.1 625.0 119.0 C626.3 118.9 627.7 119.5 629.0 119.5 C630.3 119.5 631.7 119.2 633.0 119.0 C634.3 118.8 635.7 118.0 637.0 118.0 C638.3 118.0 639.7 118.8 641.0 119.0 C642.3 119.2 643.7 119.5 645.0 119.5 C646.3 119.5 647.7 119.2 649.0 119.0 C650.3 118.8 651.7 117.9 653.0 118.0 C654.3 118.1 655.7 118.9 657.0 119.5 C658.3 120.1 659.7 121.2 661.0 121.5 C662.3 121.8 663.7 121.7 665.0 121.5 C666.3 121.3 667.7 120.9 669.0 120.5 C670.3 120.1 671.7 119.5 673.0 119.0 C674.3 118.5 675.7 118.0 677.0 117.5 C678.3 117.0 679.8 116.4 681.0 116.0 C682.2 115.6 683.0 114.8 684.0 115.0 C685.0 115.2 685.8 116.2 687.0 117.0 C688.2 117.8 689.7 119.2 691.0 120.0 C692.3 120.8 693.7 121.3 695.0 122.0 C696.3 122.7 697.7 124.0 699.0 124.0 C700.3 124.0 701.7 122.8 703.0 122.0 C704.3 121.2 705.7 119.8 707.0 119.0 C708.3 118.2 709.8 117.4 711.0 117.0 C712.2 116.6 713.3 116.5 714.0 116.5 C714.7 116.5 714.1 115.6 715.0 116.8 C715.9 117.9 718.0 122.1 719.5 123.5 C721.0 124.9 722.2 124.8 724.0 125.0 C725.8 125.2 728.0 124.9 730.0 125.0 C732.0 125.1 734.0 125.2 736.0 125.8 C738.0 126.2 740.0 126.4 742.0 128.0 C744.0 129.6 746.0 133.5 748.0 135.5 C750.0 137.5 752.0 138.5 754.0 140.0 C756.0 141.5 758.0 143.6 760.0 144.5 C762.0 145.4 764.0 145.0 766.0 145.2 C768.0 145.5 770.0 145.6 772.0 146.0 C774.0 146.4 776.0 146.8 778.0 147.5 C780.0 148.2 782.0 149.0 784.0 150.5 C786.0 152.0 788.2 155.1 790.0 156.5 C791.8 157.9 793.0 157.8 794.5 158.8 C796.0 159.8 797.2 161.2 799.0 162.5 C800.8 163.8 803.0 165.1 805.0 166.2 C807.0 167.4 809.0 168.4 811.0 169.2 C813.0 170.1 815.0 170.6 817.0 171.5 C819.0 172.4 821.7 173.5 823.0 174.5 C824.3 175.5 823.7 175.9 825.0 177.2 C826.3 178.6 829.0 180.9 831.0 182.5 C833.0 184.1 835.0 185.6 837.0 187.0 C839.0 188.4 841.0 189.9 843.0 190.8 C845.0 191.6 847.0 192.0 849.0 192.2 C851.0 192.5 853.0 192.1 855.0 192.2 C857.0 192.4 859.0 193.2 861.0 193.0 C863.0 192.8 865.2 190.5 867.0 190.8 C868.8 191.0 870.0 192.9 871.5 194.5 C873.0 196.1 874.5 198.8 876.0 200.5 C877.5 202.2 878.8 203.8 880.5 205.0 C882.2 206.2 884.8 206.8 886.5 208.0 C888.2 209.2 889.5 210.9 891.0 212.5 C892.5 214.1 894.0 216.4 895.5 217.8 C897.0 219.1 898.5 220.0 900.0 220.8 C901.5 221.5 903.0 221.4 904.5 222.2 C906.0 223.1 907.5 224.1 909.0 226.0 C910.5 227.9 912.0 231.4 913.5 233.5 C915.0 235.6 916.2 237.9 918.0 238.8 C919.8 239.6 922.8 238.2 924.0 238.8 C925.2 239.3 923.8 240.2 925.0 242.0 C926.2 243.8 929.0 247.8 931.0 249.5 C933.0 251.2 935.0 251.8 937.0 252.5 C939.0 253.2 941.0 253.2 943.0 254.0 C945.0 254.8 947.0 255.5 949.0 257.0 C951.0 258.5 953.0 261.0 955.0 263.0 C957.0 265.0 959.0 267.0 961.0 269.0 C963.0 271.0 965.2 273.2 967.0 275.0 C968.8 276.8 970.0 277.8 971.5 279.5 C973.0 281.2 974.5 284.2 976.0 285.5 C977.5 286.8 979.0 286.4 980.5 287.0 C982.0 287.6 983.8 287.8 985.0 289.2 C986.2 290.8 986.8 293.6 988.0 296.0 C989.2 298.4 991.0 301.5 992.5 303.5 C994.0 305.5 995.5 305.8 997.0 308.0 C998.5 310.2 1000.2 314.2 1001.5 317.0 C1002.8 319.8 1003.4 322.8 1005.0 324.8 C1006.6 326.7 1009.0 329.0 1011.0 328.5 C1013.0 328.0 1015.2 322.5 1017.0 321.8 C1018.8 321.0 1020.0 322.1 1021.5 324.0 C1023.0 325.9 1024.5 330.5 1026.0 333.0 C1027.5 335.5 1029.0 337.0 1030.5 339.0 C1032.0 341.0 1033.5 343.2 1035.0 345.0 C1036.5 346.8 1038.0 347.5 1039.5 349.5 C1041.0 351.5 1042.2 355.9 1044.0 357.0 C1045.8 358.1 1048.0 356.1 1050.0 356.2 C1052.0 356.4 1054.2 358.0 1056.0 357.8 C1057.8 357.5 1059.0 355.8 1060.5 354.8 C1062.0 353.8 1063.5 352.5 1065.0 351.8 C1066.5 351.0 1068.7 350.8 1069.5 350.2 C1070.3 349.7 1069.3 349.3 1070.0 348.5 C1070.7 347.7 1072.3 345.0 1073.5 345.6 C1074.7 346.2 1075.8 350.2 1077.0 352.0 C1078.2 353.8 1079.3 355.7 1080.5 356.7 C1081.7 357.6 1082.8 356.5 1084.0 357.8 C1085.2 359.2 1086.3 363.2 1087.5 364.8 C1088.7 366.5 1089.6 367.4 1091.0 367.8 C1092.4 368.1 1094.1 367.5 1095.7 367.2 C1097.2 366.9 1099.2 366.3 1100.3 366.0 C1101.5 365.7 1101.7 364.8 1102.7 365.4 C1103.6 366.0 1105.0 368.0 1106.2 369.5 C1107.3 371.0 1108.3 373.0 1109.7 374.2 C1111.0 375.3 1112.8 375.7 1114.3 376.5 C1115.9 377.3 1117.4 378.1 1119.0 378.8 C1120.6 379.6 1122.1 379.6 1123.7 381.2 C1125.2 382.7 1127.2 386.0 1128.3 388.2 C1129.5 390.3 1129.7 392.5 1130.7 394.0 C1131.6 395.5 1133.0 396.9 1134.2 396.9 C1135.3 396.9 1136.5 394.9 1137.7 394.0 C1138.8 393.1 1139.8 392.1 1141.2 391.7 C1142.5 391.3 1144.3 391.5 1145.8 391.7 C1147.4 391.9 1149.1 391.9 1150.5 392.8 C1151.9 393.8 1152.6 396.4 1154.0 397.5 C1155.4 398.6 1157.3 399.1 1158.7 399.2 C1160.0 399.4 1161.2 399.3 1162.2 398.7 C1163.1 398.0 1163.7 396.5 1164.5 395.2 C1165.3 393.8 1166.1 392.2 1166.8 390.5 C1167.6 388.8 1168.8 386.1 1169.2 385.2" stroke="#f07c7c" stroke-width="1.0" fill="none" stroke-linejoin="round" stroke-linecap="round"/><path d="M59.5 394.7 C60.2 394.5 62.2 393.1 64.0 393.5 C65.8 393.9 68.2 396.0 70.0 397.2 C71.8 398.5 73.1 399.5 74.5 401.0 C75.9 402.5 77.0 404.5 78.2 406.2 C79.5 408.0 80.9 409.9 82.0 411.5 C83.1 413.1 83.7 414.9 85.0 416.0 C86.3 417.1 88.2 418.1 89.8 417.8 C91.4 417.6 93.0 415.9 94.8 414.5 C96.5 413.1 98.1 410.8 100.0 409.2 C101.9 407.8 104.4 406.4 106.0 405.5 C107.6 404.6 108.6 404.2 109.8 403.7 C110.9 403.2 111.6 402.1 112.8 402.5 C113.9 402.9 115.1 404.9 116.5 406.2 C117.9 407.6 119.5 409.8 121.0 410.8 C122.5 411.8 123.8 412.1 125.5 412.2 C127.2 412.4 129.8 411.9 131.5 411.5 C133.2 411.1 134.2 409.8 136.0 410.0 C137.8 410.2 140.0 412.6 142.0 413.0 C144.0 413.4 146.0 413.1 148.0 412.2 C150.0 411.4 152.0 409.0 154.0 407.8 C156.0 406.5 158.2 405.5 160.0 404.8 C161.8 404.0 163.4 403.9 165.0 403.2 C166.6 402.6 168.0 401.2 169.5 401.0 C171.0 400.8 172.5 401.1 174.0 401.8 C175.5 402.4 177.0 404.4 178.5 404.8 C180.0 405.1 181.5 404.3 183.0 404.0 C184.5 403.7 186.0 403.2 187.5 402.8 C189.0 402.4 190.5 402.1 192.0 401.8 C193.5 401.4 195.0 400.9 196.5 401.0 C198.0 401.1 199.5 401.8 201.0 402.2 C202.5 402.6 204.0 402.8 205.5 403.2 C207.0 403.8 208.5 405.8 210.0 405.2 C211.5 404.6 213.0 400.6 214.5 399.5 C216.0 398.4 217.5 398.8 219.0 398.8 C220.5 398.8 222.0 399.8 223.5 399.5 C225.0 399.2 226.5 397.9 228.0 397.2 C229.5 396.6 231.0 396.1 232.5 395.8 C234.0 395.4 235.5 395.4 237.0 395.0 C238.5 394.6 240.0 394.0 241.5 393.5 C243.0 393.0 244.5 392.3 246.0 392.0 C247.5 391.7 249.0 391.8 250.5 391.7 C252.0 391.6 253.5 391.7 255.0 391.2 C256.5 390.8 258.0 389.6 259.5 389.0 C261.0 388.4 262.5 388.1 264.0 387.5 C265.5 386.9 267.0 385.9 268.5 385.2 C270.0 384.6 271.9 384.4 273.0 383.3 C274.1 382.2 273.9 380.1 275.0 378.5 C276.1 376.9 278.0 375.5 279.5 374.0 C281.0 372.5 282.2 370.9 284.0 369.5 C285.8 368.1 288.2 367.0 290.0 365.8 C291.8 364.5 293.0 363.9 294.5 362.0 C296.0 360.1 297.2 356.2 299.0 354.5 C300.8 352.8 303.0 352.5 305.0 351.5 C307.0 350.5 309.2 349.4 311.0 348.5 C312.8 347.6 314.0 347.2 315.5 346.2 C317.0 345.2 318.5 343.6 320.0 342.5 C321.5 341.4 323.0 340.8 324.5 339.5 C326.0 338.2 327.8 336.2 329.0 335.0 C330.2 333.8 330.8 332.4 332.0 332.0 C333.2 331.6 335.0 333.0 336.5 332.8 C338.0 332.5 339.5 331.6 341.0 330.5 C342.5 329.4 344.0 327.6 345.5 326.0 C347.0 324.4 348.5 322.5 350.0 320.8 C351.5 319.0 353.0 316.9 354.5 315.5 C356.0 314.1 357.5 313.2 359.0 312.5 C360.5 311.8 362.0 311.5 363.5 311.0 C365.0 310.5 366.5 310.1 368.0 309.5 C369.5 308.9 371.2 308.2 372.5 307.2 C373.8 306.2 374.2 304.9 375.5 303.5 C376.8 302.1 378.5 300.5 380.0 299.0 C381.5 297.5 383.7 296.0 384.5 294.5 C385.3 293.0 384.2 291.2 385.0 290.0 C385.8 288.8 388.0 288.1 389.5 287.0 C391.0 285.9 392.2 284.8 394.0 283.2 C395.8 281.8 398.0 279.6 400.0 278.0 C402.0 276.4 404.0 275.2 406.0 273.5 C408.0 271.8 410.2 269.2 412.0 267.5 C413.8 265.8 414.8 264.4 416.5 263.0 C418.2 261.6 420.5 260.4 422.5 259.2 C424.5 258.1 426.5 257.4 428.5 256.2 C430.5 255.1 432.5 253.9 434.5 252.5 C436.5 251.1 438.8 249.6 440.5 248.0 C442.2 246.4 443.5 244.5 445.0 242.8 C446.5 241.0 448.0 239.2 449.5 237.5 C451.0 235.8 452.5 233.8 454.0 232.2 C455.5 230.8 457.0 229.4 458.5 228.5 C460.0 227.6 461.2 227.8 463.0 227.0 C464.8 226.2 467.0 225.2 469.0 224.0 C471.0 222.8 473.0 221.2 475.0 219.5 C477.0 217.8 479.0 215.2 481.0 213.5 C483.0 211.8 485.2 210.4 487.0 209.0 C488.8 207.6 490.2 207.0 491.5 205.2 C492.8 203.5 493.4 200.0 495.0 198.5 C496.6 197.0 499.0 197.1 501.0 196.2 C503.0 195.4 505.0 194.4 507.0 193.2 C509.0 192.1 511.0 190.9 513.0 189.5 C515.0 188.1 517.0 186.5 519.0 185.0 C521.0 183.5 523.0 182.1 525.0 180.5 C527.0 178.9 529.0 176.9 531.0 175.2 C533.0 173.6 535.0 172.1 537.0 170.8 C539.0 169.4 541.0 168.2 543.0 167.0 C545.0 165.8 547.0 164.6 549.0 163.2 C551.0 161.9 553.0 160.1 555.0 158.8 C557.0 157.4 559.0 156.5 561.0 155.0 C563.0 153.5 565.0 151.0 567.0 149.8 C569.0 148.5 571.0 148.2 573.0 147.5 C575.0 146.8 577.0 146.0 579.0 145.2 C581.0 144.5 583.0 144.1 585.0 143.0 C587.0 141.9 589.0 140.0 591.0 138.5 C593.0 137.0 595.0 135.4 597.0 134.0 C599.0 132.6 601.7 131.4 603.0 130.2 C604.3 129.1 604.0 127.6 605.0 127.0 C606.0 126.4 607.7 126.7 609.0 126.5 C610.3 126.3 611.7 126.2 613.0 126.0 C614.3 125.8 615.7 125.3 617.0 125.0 C618.3 124.7 619.7 124.2 621.0 124.0 C622.3 123.8 623.7 123.8 625.0 123.5 C626.3 123.2 627.7 122.8 629.0 122.5 C630.3 122.2 631.7 122.0 633.0 121.8 C634.3 121.6 635.7 121.6 637.0 121.5 C638.3 121.4 639.7 120.8 641.0 121.0 C642.3 121.2 643.7 122.1 645.0 122.5 C646.3 122.9 647.7 123.4 649.0 123.5 C650.3 123.6 651.7 123.2 653.0 123.0 C654.3 122.8 655.7 122.3 657.0 122.0 C658.3 121.7 659.7 121.3 661.0 121.0 C662.3 120.7 663.7 120.2 665.0 120.0 C666.3 119.8 667.7 119.7 669.0 119.5 C670.3 119.3 671.7 119.2 673.0 119.0 C674.3 118.8 675.7 118.8 677.0 118.5 C678.3 118.2 679.8 117.4 681.0 117.0 C682.2 116.6 683.0 115.8 684.0 116.0 C685.0 116.2 685.8 117.2 687.0 118.0 C688.2 118.8 689.7 119.8 691.0 120.5 C692.3 121.2 693.7 121.9 695.0 122.5 C696.3 123.1 697.7 123.6 699.0 124.0 C700.3 124.4 701.8 125.1 703.0 125.0 C704.2 124.9 704.8 124.2 706.0 123.5 C707.2 122.8 708.8 121.5 710.0 121.0 C711.2 120.5 712.0 120.4 713.0 120.5 C714.0 120.6 715.0 120.8 716.0 121.5 C717.0 122.2 718.4 124.4 719.0 125.0 C719.6 125.6 718.7 124.2 719.5 125.0 C720.3 125.8 722.2 128.5 724.0 129.5 C725.8 130.5 728.0 130.8 730.0 131.0 C732.0 131.2 734.0 130.6 736.0 131.0 C738.0 131.4 740.0 132.4 742.0 133.2 C744.0 134.1 746.0 135.2 748.0 136.2 C750.0 137.2 752.2 138.0 754.0 139.2 C755.8 140.5 757.0 142.4 758.5 143.8 C760.0 145.1 761.2 146.5 763.0 147.5 C764.8 148.5 767.0 149.1 769.0 149.8 C771.0 150.4 773.0 150.5 775.0 151.2 C777.0 152.0 779.0 153.2 781.0 154.2 C783.0 155.2 785.0 156.1 787.0 157.2 C789.0 158.4 791.0 159.9 793.0 161.0 C795.0 162.1 797.0 163.0 799.0 164.0 C801.0 165.0 803.0 166.0 805.0 167.0 C807.0 168.0 809.0 169.1 811.0 170.0 C813.0 170.9 815.0 171.4 817.0 172.2 C819.0 173.1 821.7 174.4 823.0 175.2 C824.3 176.1 823.7 176.2 825.0 177.2 C826.3 178.3 829.0 180.2 831.0 181.8 C833.0 183.2 835.0 184.8 837.0 186.2 C839.0 187.8 841.0 189.5 843.0 190.8 C845.0 192.0 847.0 192.8 849.0 193.8 C851.0 194.8 853.0 196.0 855.0 196.8 C857.0 197.5 859.0 197.8 861.0 198.2 C863.0 198.8 865.0 198.8 867.0 199.8 C869.0 200.8 871.0 202.6 873.0 204.2 C875.0 205.9 877.0 207.6 879.0 209.5 C881.0 211.4 883.0 213.2 885.0 215.5 C887.0 217.8 889.0 221.0 891.0 223.0 C893.0 225.0 895.0 226.2 897.0 227.5 C899.0 228.8 901.0 229.5 903.0 230.5 C905.0 231.5 907.0 232.2 909.0 233.5 C911.0 234.8 913.0 236.4 915.0 238.0 C917.0 239.6 919.3 241.3 921.0 243.2 C922.7 245.2 923.3 247.8 925.0 249.5 C926.7 251.2 929.0 251.8 931.0 253.2 C933.0 254.8 935.0 257.0 937.0 258.5 C939.0 260.0 941.0 261.5 943.0 262.2 C945.0 263.0 947.0 262.2 949.0 263.0 C951.0 263.8 953.0 265.5 955.0 266.8 C957.0 268.0 959.0 268.9 961.0 270.5 C963.0 272.1 965.0 274.5 967.0 276.5 C969.0 278.5 971.2 280.2 973.0 282.5 C974.8 284.8 976.0 288.0 977.5 290.0 C979.0 292.0 980.5 293.0 982.0 294.5 C983.5 296.0 985.0 297.2 986.5 299.0 C988.0 300.8 989.2 302.8 991.0 305.0 C992.8 307.2 995.2 310.2 997.0 312.5 C998.8 314.8 1000.2 316.6 1001.5 318.5 C1002.8 320.4 1003.4 322.5 1005.0 324.0 C1006.6 325.5 1009.0 328.0 1011.0 327.8 C1013.0 327.5 1015.2 323.1 1017.0 322.5 C1018.8 321.9 1020.0 322.8 1021.5 324.0 C1023.0 325.2 1024.5 327.5 1026.0 330.0 C1027.5 332.5 1028.8 336.8 1030.5 339.0 C1032.2 341.2 1034.8 341.8 1036.5 343.5 C1038.2 345.2 1039.8 347.5 1041.0 349.5 C1042.2 351.5 1042.5 354.5 1044.0 355.5 C1045.5 356.5 1048.0 355.9 1050.0 355.5 C1052.0 355.1 1054.0 353.8 1056.0 353.2 C1058.0 352.8 1060.2 352.4 1062.0 352.5 C1063.8 352.6 1065.2 353.4 1066.5 354.0 C1067.8 354.6 1068.6 355.5 1070.0 356.1 C1071.4 356.6 1073.1 356.0 1074.7 357.2 C1076.2 358.5 1077.8 362.1 1079.3 363.7 C1080.9 365.2 1082.4 365.5 1084.0 366.6 C1085.6 367.7 1087.1 368.7 1088.7 370.1 C1090.2 371.4 1091.8 373.4 1093.3 374.8 C1094.9 376.1 1096.2 377.6 1098.0 378.2 C1099.8 378.9 1101.9 378.3 1103.8 378.8 C1105.8 379.3 1107.9 380.8 1109.7 381.2 C1111.4 381.6 1112.8 381.2 1114.3 381.2 C1115.9 381.2 1117.4 380.9 1119.0 381.2 C1120.6 381.5 1122.1 381.8 1123.7 382.9 C1125.2 384.1 1126.8 387.1 1128.3 388.2 C1129.9 389.2 1131.4 389.5 1133.0 389.3 C1134.6 389.1 1136.1 387.5 1137.7 387.0 C1139.2 386.5 1140.8 386.5 1142.3 386.4 C1143.9 386.3 1145.4 386.3 1147.0 386.4 C1148.6 386.5 1150.1 386.4 1151.7 387.0 C1153.2 387.6 1154.8 388.8 1156.3 389.9 C1157.9 391.1 1159.6 393.1 1161.0 394.0 C1162.4 394.9 1163.1 395.1 1164.5 395.2 C1165.9 395.3 1168.4 394.7 1169.2 394.6" stroke="#e84c4c" stroke-width="1.9" fill="none" stroke-linejoin="round" stroke-linecap="round" stroke-dasharray="5.3 6.7"/><path d="M60.2 413.0 C60.9 414.0 62.4 417.5 64.0 419.0 C65.6 420.5 68.2 421.1 70.0 422.0 C71.8 422.9 72.6 423.9 74.5 424.2 C76.4 424.6 79.2 423.4 81.2 424.2 C83.2 425.1 84.8 427.9 86.5 429.5 C88.2 431.1 90.5 432.9 91.8 434.0 C93.0 435.1 92.8 435.9 94.0 436.2 C95.2 436.6 97.8 436.6 99.2 435.8 C100.8 435.1 101.8 433.3 103.0 431.8 C104.2 430.2 105.5 428.1 106.8 426.5 C108.0 424.9 109.1 423.0 110.5 422.0 C111.9 421.0 113.2 420.1 115.0 420.5 C116.8 420.9 119.2 423.8 121.0 424.2 C122.8 424.8 123.8 423.2 125.5 423.5 C127.2 423.8 129.8 425.0 131.5 425.8 C133.2 426.5 134.2 427.6 136.0 428.0 C137.8 428.4 140.0 428.2 142.0 428.0 C144.0 427.8 146.0 427.0 148.0 426.5 C150.0 426.0 152.0 425.8 154.0 425.0 C156.0 424.2 158.2 422.8 160.0 422.0 C161.8 421.2 163.7 421.2 165.0 420.5 C166.3 419.8 167.0 418.8 168.0 417.5 C169.0 416.2 169.8 414.0 171.0 413.0 C172.2 412.0 174.0 411.5 175.5 411.5 C177.0 411.5 178.6 412.2 180.0 413.0 C181.4 413.8 182.2 414.9 183.8 416.0 C185.2 417.1 187.4 419.2 189.0 419.8 C190.6 420.2 191.9 418.9 193.5 419.0 C195.1 419.1 197.0 419.8 198.8 420.5 C200.5 421.2 202.4 423.5 204.0 423.5 C205.6 423.5 207.0 422.0 208.5 420.5 C210.0 419.0 211.5 416.8 213.0 414.5 C214.5 412.2 216.0 409.4 217.5 407.0 C219.0 404.6 220.5 401.5 222.0 400.2 C223.5 399.0 225.0 399.1 226.5 399.5 C228.0 399.9 229.5 402.5 231.0 402.5 C232.5 402.5 234.0 400.4 235.5 399.5 C237.0 398.6 238.5 397.8 240.0 397.2 C241.5 396.8 243.0 396.9 244.5 396.5 C246.0 396.1 247.5 395.2 249.0 395.0 C250.5 394.8 252.0 395.2 253.5 395.0 C255.0 394.8 256.5 394.0 258.0 393.5 C259.5 393.0 260.8 392.6 262.5 392.0 C264.2 391.4 266.8 390.8 268.5 389.8 C270.2 388.8 271.5 387.0 273.0 386.0 C274.5 385.0 276.0 384.5 277.5 383.8 C279.0 383.0 280.9 382.1 282.0 381.5 C283.1 380.9 282.9 380.5 284.0 380.0 C285.1 379.5 287.0 379.2 288.5 378.5 C290.0 377.8 291.5 376.6 293.0 375.5 C294.5 374.4 296.0 373.0 297.5 371.8 C299.0 370.5 300.5 369.1 302.0 368.0 C303.5 366.9 304.8 366.2 306.5 365.0 C308.2 363.8 310.5 362.0 312.5 360.5 C314.5 359.0 316.8 357.5 318.5 356.0 C320.2 354.5 321.8 352.8 323.0 351.5 C324.2 350.2 324.8 349.4 326.0 348.5 C327.2 347.6 329.0 347.1 330.5 346.2 C332.0 345.4 333.5 344.2 335.0 343.2 C336.5 342.2 338.0 341.4 339.5 340.2 C341.0 339.1 342.5 337.8 344.0 336.5 C345.5 335.2 347.0 334.0 348.5 332.8 C350.0 331.5 351.5 330.6 353.0 329.0 C354.5 327.4 356.0 325.0 357.5 323.0 C359.0 321.0 360.5 318.8 362.0 317.0 C363.5 315.2 365.0 313.8 366.5 312.5 C368.0 311.2 369.5 310.8 371.0 309.5 C372.5 308.2 374.0 306.5 375.5 305.0 C377.0 303.5 378.5 302.0 380.0 300.5 C381.5 299.0 383.0 297.4 384.5 296.0 C386.0 294.6 387.7 293.2 389.0 292.2 C390.3 291.2 391.2 291.0 392.5 290.0 C393.8 289.0 395.5 287.8 397.0 286.2 C398.5 284.8 400.0 282.6 401.5 281.0 C403.0 279.4 404.5 278.0 406.0 276.5 C407.5 275.0 409.0 273.5 410.5 272.0 C412.0 270.5 413.5 268.9 415.0 267.5 C416.5 266.1 418.0 264.8 419.5 263.8 C421.0 262.8 422.5 262.5 424.0 261.5 C425.5 260.5 427.0 259.0 428.5 257.8 C430.0 256.5 431.5 255.4 433.0 254.0 C434.5 252.6 436.0 251.0 437.5 249.5 C439.0 248.0 440.5 246.2 442.0 245.0 C443.5 243.8 445.0 243.0 446.5 242.0 C448.0 241.0 449.5 239.8 451.0 239.0 C452.5 238.2 454.0 238.2 455.5 237.5 C457.0 236.8 458.5 235.5 460.0 234.5 C461.5 233.5 463.0 232.5 464.5 231.5 C466.0 230.5 467.5 229.5 469.0 228.5 C470.5 227.5 472.0 226.5 473.5 225.5 C475.0 224.5 476.5 223.5 478.0 222.5 C479.5 221.5 481.0 220.5 482.5 219.5 C484.0 218.5 485.5 217.4 487.0 216.5 C488.5 215.6 490.0 215.0 491.5 214.2 C493.0 213.5 494.5 213.1 496.0 212.0 C497.5 210.9 498.2 209.5 500.5 207.5 C502.8 205.5 507.7 201.9 510.0 200.0 C512.3 198.1 513.0 197.6 514.5 196.2 C516.0 194.9 517.5 193.0 519.0 191.8 C520.5 190.5 521.8 189.8 523.5 188.8 C525.2 187.8 527.5 186.9 529.5 185.8 C531.5 184.6 533.5 183.2 535.5 182.0 C537.5 180.8 539.5 179.8 541.5 178.2 C543.5 176.8 545.8 174.5 547.5 173.0 C549.2 171.5 550.5 170.8 552.0 169.2 C553.5 167.8 555.0 165.2 556.5 164.0 C558.0 162.8 559.5 162.4 561.0 161.8 C562.5 161.1 564.0 160.9 565.5 160.2 C567.0 159.6 568.5 158.8 570.0 158.0 C571.5 157.2 573.0 156.6 574.5 155.8 C576.0 154.9 577.5 153.8 579.0 152.8 C580.5 151.8 582.0 150.8 583.5 149.8 C585.0 148.8 586.5 147.6 588.0 146.8 C589.5 145.9 591.0 144.9 592.5 144.5 C594.0 144.1 595.5 144.8 597.0 144.5 C598.5 144.2 600.0 143.9 601.5 143.0 C603.0 142.1 604.8 139.9 606.0 139.2 C607.2 138.6 608.0 139.7 609.0 139.0 C610.0 138.3 611.0 136.2 612.0 135.0 C613.0 133.8 614.0 132.6 615.0 132.0 C616.0 131.4 617.0 131.8 618.0 131.5 C619.0 131.2 619.8 130.9 621.0 130.5 C622.2 130.1 623.7 129.4 625.0 129.0 C626.3 128.6 627.7 128.3 629.0 128.0 C630.3 127.7 631.7 127.3 633.0 127.0 C634.3 126.7 635.7 126.3 637.0 126.0 C638.3 125.7 639.7 124.8 641.0 125.0 C642.3 125.2 643.7 126.2 645.0 127.0 C646.3 127.8 647.7 128.9 649.0 129.5 C650.3 130.1 651.7 130.6 653.0 130.5 C654.3 130.4 655.7 129.9 657.0 129.0 C658.3 128.1 659.7 125.9 661.0 125.0 C662.3 124.1 663.7 123.3 665.0 123.5 C666.3 123.7 667.7 125.2 669.0 126.0 C670.3 126.8 671.7 127.8 673.0 128.5 C674.3 129.2 675.7 129.5 677.0 130.0 C678.3 130.5 679.7 131.2 681.0 131.5 C682.3 131.8 683.7 131.7 685.0 131.8 C686.3 131.9 687.7 132.3 689.0 132.2 C690.3 132.1 691.7 131.3 693.0 131.0 C694.3 130.7 695.7 130.4 697.0 130.5 C698.3 130.6 699.7 131.2 701.0 131.5 C702.3 131.8 703.7 132.5 705.0 132.5 C706.3 132.5 707.7 131.5 709.0 131.5 C710.3 131.5 711.8 132.3 713.0 132.5 C714.2 132.7 715.2 132.4 716.5 132.5 C717.8 132.6 719.5 133.0 721.0 133.2 C722.5 133.5 724.0 133.8 725.5 134.0 C727.0 134.2 728.5 134.2 730.0 134.8 C731.5 135.2 733.0 136.1 734.5 137.0 C736.0 137.9 737.5 139.0 739.0 140.0 C740.5 141.0 742.0 142.2 743.5 143.0 C745.0 143.8 746.2 144.1 748.0 144.5 C749.8 144.9 752.0 144.9 754.0 145.2 C756.0 145.6 758.2 146.2 760.0 146.8 C761.8 147.2 763.0 147.8 764.5 148.2 C766.0 148.8 767.2 149.0 769.0 149.8 C770.8 150.5 773.0 151.6 775.0 152.8 C777.0 153.9 779.0 155.4 781.0 156.5 C783.0 157.6 785.0 158.5 787.0 159.5 C789.0 160.5 791.0 161.5 793.0 162.5 C795.0 163.5 797.0 164.2 799.0 165.5 C801.0 166.8 803.0 168.5 805.0 170.0 C807.0 171.5 809.0 173.0 811.0 174.5 C813.0 176.0 815.0 177.2 817.0 179.0 C819.0 180.8 821.7 183.5 823.0 185.0 C824.3 186.5 823.7 186.9 825.0 187.8 C826.3 188.6 829.0 189.4 831.0 190.0 C833.0 190.6 835.0 190.9 837.0 191.5 C839.0 192.1 841.0 192.9 843.0 193.8 C845.0 194.6 847.0 195.6 849.0 196.8 C851.0 197.9 853.0 198.9 855.0 200.5 C857.0 202.1 859.0 204.6 861.0 206.5 C863.0 208.4 865.0 209.6 867.0 211.8 C869.0 213.9 871.0 217.2 873.0 219.2 C875.0 221.2 877.0 222.1 879.0 223.8 C881.0 225.4 883.0 227.2 885.0 229.0 C887.0 230.8 889.0 232.6 891.0 234.2 C893.0 235.9 895.0 237.5 897.0 238.8 C899.0 240.0 901.0 240.9 903.0 241.8 C905.0 242.6 907.0 243.2 909.0 244.0 C911.0 244.8 913.0 245.5 915.0 246.2 C917.0 247.0 919.3 246.7 921.0 248.5 C922.7 250.3 923.6 254.8 925.0 257.0 C926.4 259.2 928.0 259.9 929.5 261.5 C931.0 263.1 932.2 265.2 934.0 266.8 C935.8 268.2 938.2 268.9 940.0 270.5 C941.8 272.1 943.0 274.8 944.5 276.5 C946.0 278.2 947.2 279.2 949.0 281.0 C950.8 282.8 953.0 285.4 955.0 287.0 C957.0 288.6 959.2 290.0 961.0 290.8 C962.8 291.5 964.0 291.1 965.5 291.5 C967.0 291.9 968.5 292.1 970.0 293.0 C971.5 293.9 973.0 295.2 974.5 296.8 C976.0 298.2 977.5 300.1 979.0 302.0 C980.5 303.9 982.0 306.5 983.5 308.0 C985.0 309.5 986.5 309.6 988.0 311.0 C989.5 312.4 991.2 314.8 992.5 316.2 C993.8 317.8 992.7 316.7 995.5 320.0 C998.3 323.3 1006.4 332.6 1009.5 336.0 C1012.6 339.4 1012.5 339.1 1014.0 340.5 C1015.5 341.9 1016.8 343.8 1018.5 344.2 C1020.2 344.8 1022.5 343.1 1024.5 343.5 C1026.5 343.9 1028.5 345.0 1030.5 346.5 C1032.5 348.0 1034.5 350.2 1036.5 352.5 C1038.5 354.8 1040.5 358.0 1042.5 360.0 C1044.5 362.0 1046.8 363.0 1048.5 364.5 C1050.2 366.0 1051.5 367.2 1053.0 369.0 C1054.5 370.8 1055.8 373.5 1057.5 375.0 C1059.2 376.5 1061.5 377.4 1063.5 378.0 C1065.5 378.6 1067.8 378.6 1069.5 378.8 C1071.2 378.9 1072.2 378.0 1073.5 378.8 C1074.8 379.6 1075.8 381.8 1077.0 383.5 C1078.2 385.2 1079.3 387.2 1080.5 388.8 C1081.7 390.3 1082.8 391.2 1084.0 392.8 C1085.2 394.5 1086.3 397.3 1087.5 398.7 C1088.7 400.0 1089.6 400.7 1091.0 401.0 C1092.4 401.3 1094.1 400.8 1095.7 400.4 C1097.2 400.0 1099.0 398.9 1100.3 398.7 C1101.7 398.5 1102.5 398.8 1103.8 399.2 C1105.2 399.7 1106.9 400.9 1108.5 401.6 C1110.1 402.3 1111.6 403.7 1113.2 403.3 C1114.7 402.9 1116.5 400.0 1117.8 399.2 C1119.2 398.5 1120.2 398.2 1121.3 398.7 C1122.5 399.2 1123.5 401.1 1124.8 402.2 C1126.2 403.2 1127.9 405.1 1129.5 405.1 C1131.1 405.1 1132.8 402.8 1134.2 402.2 C1135.5 401.5 1136.7 400.7 1137.7 401.0 C1138.6 401.3 1138.8 403.2 1140.0 403.9 C1141.2 404.6 1143.1 404.6 1144.7 405.1 C1146.2 405.6 1147.8 406.2 1149.3 406.8 C1150.9 407.4 1152.4 408.2 1154.0 408.6 C1155.6 409.0 1157.1 409.5 1158.7 409.2 C1160.2 408.9 1161.8 407.4 1163.3 406.8 C1164.9 406.2 1167.0 405.9 1168.0 405.7 C1169.0 405.5 1169.0 405.7 1169.2 405.7" stroke="#5050f0" stroke-width="1.9" fill="none" stroke-linejoin="round" stroke-linecap="round" stroke-dasharray="5.3 6.7"/><path d="M59.5 380.0 C60.0 376.2 61.3 359.2 62.2 357.5 C63.1 355.8 63.9 365.5 64.8 369.5 C65.6 373.5 66.4 379.4 67.3 381.5 C68.2 383.6 69.2 381.6 70.0 382.2 C70.8 382.9 71.5 384.0 72.2 385.2 C73.0 386.5 73.6 390.2 74.2 389.8 C74.8 389.2 75.5 383.6 76.0 382.2 C76.5 380.9 76.9 381.5 77.5 381.5 C78.1 381.5 79.1 381.9 79.8 382.2 C80.4 382.6 80.8 381.9 81.2 383.8 C81.8 385.6 82.2 390.6 82.8 393.5 C83.2 396.4 83.6 398.2 84.2 401.0 C84.9 403.8 86.1 408.5 86.5 410.0" stroke="#000" stroke-width="2.4" fill="none" stroke-linejoin="round" stroke-linecap="round"/>
<path d="M59 526.5V59H1169.5V526.5" stroke="#555" stroke-width="1.5" fill="none"/>
<path d="M58.4 526.5H1170.1" stroke="#000" stroke-width="1.1" fill="none"/>
<text class="s" font-size="9" text-anchor="middle" transform="translate(41.3 91.0) rotate(-90)">15</text>
<text class="s" font-size="9" text-anchor="middle" transform="translate(41.3 127.7) rotate(-90)">10</text>
<text class="s" font-size="9" text-anchor="middle" transform="translate(41.3 164.3) rotate(-90)">5</text>
<text class="s" font-size="9" text-anchor="middle" transform="translate(41.3 201.0) rotate(-90)">0</text>
<text class="s" font-size="9" text-anchor="middle" transform="translate(41.3 237.7) rotate(-90)">-5</text>
<text class="s" font-size="9" text-anchor="middle" transform="translate(41.3 274.4) rotate(-90)">-10</text>
<text class="s" font-size="9" text-anchor="middle" transform="translate(41.3 311.0) rotate(-90)">-15</text>
<text class="s" font-size="9" text-anchor="middle" transform="translate(41.3 347.7) rotate(-90)">-20</text>
<text class="s" font-size="9" text-anchor="middle" transform="translate(41.3 384.4) rotate(-90)">-25</text>
<text class="s" font-size="9" text-anchor="middle" transform="translate(41.3 421.1) rotate(-90)">-30</text>
<text class="s" font-size="9" text-anchor="middle" transform="translate(41.3 457.7) rotate(-90)">-35</text>
<text class="s" font-size="9" text-anchor="middle" transform="translate(41.3 494.4) rotate(-90)">-40</text>
<path d="M51.5 91.0H59M51.5 127.7H59M51.5 164.3H59M51.5 201.0H59M51.5 237.7H59M51.5 274.4H59M51.5 311.0H59M51.5 347.7H59M51.5 384.4H59M51.5 421.1H59M51.5 457.7H59M51.5 494.4H59" stroke="#333" stroke-width="1" fill="none"/>
<path d="M58.86 526.5V534M61.91 526.5V534M64.97 526.5V534M68.02 526.5V534M71.07 526.5V534M74.12 526.5V534M77.18 526.5V534M80.23 526.5V534M83.28 526.5V534M86.34 526.5V534M89.39 526.5V534M92.44 526.5V534M95.49 526.5V534M98.55 526.5V534M101.60 526.5V534M104.65 526.5V534M107.70 526.5V534M110.76 526.5V534M113.81 526.5V534M116.86 526.5V534M119.92 526.5V534M122.97 526.5V534M126.02 526.5V534M129.07 526.5V534M132.13 526.5V534M135.18 526.5V534M138.23 526.5V534M141.29 526.5V534M144.34 526.5V534M147.39 526.5V534M150.44 526.5V534M153.50 526.5V534M156.55 526.5V534M159.60 526.5V534M162.66 526.5V534M165.71 526.5V534M168.76 526.5V534M171.81 526.5V534M174.87 526.5V534M177.92 526.5V534M180.97 526.5V534M184.02 526.5V534M187.08 526.5V534M190.13 526.5V534M193.18 526.5V534M196.24 526.5V534M199.29 526.5V534M202.34 526.5V534M205.39 526.5V534M208.45 526.5V534M211.50 526.5V534M214.55 526.5V534M217.61 526.5V534M220.66 526.5V534M223.71 526.5V534M226.76 526.5V534M229.82 526.5V534M232.87 526.5V534M235.92 526.5V534M238.98 526.5V534M242.03 526.5V534M245.08 526.5V534M248.13 526.5V534M251.19 526.5V534M254.24 526.5V534M257.29 526.5V534M260.34 526.5V534M263.40 526.5V534M266.45 526.5V534M269.50 526.5V534M272.56 526.5V534M275.61 526.5V534M278.66 526.5V534M281.71 526.5V534M284.77 526.5V534M287.82 526.5V534M290.87 526.5V534M293.93 526.5V534M296.98 526.5V534M300.03 526.5V534M303.08 526.5V534M306.14 526.5V534M309.19 526.5V534M312.24 526.5V534M315.30 526.5V534M318.35 526.5V534M321.40 526.5V534M324.45 526.5V534M327.51 526.5V534M330.56 526.5V534M333.61 526.5V534M336.66 526.5V534M339.72 526.5V534M342.77 526.5V534M345.82 526.5V534M348.88 526.5V534M351.93 526.5V534M354.98 526.5V534M358.03 526.5V534M361.09 526.5V534M364.14 526.5V534M367.19 526.5V534M370.25 526.5V534M373.30 526.5V534M376.35 526.5V534M379.40 526.5V534M382.46 526.5V534M385.51 526.5V534M388.56 526.5V534M391.62 526.5V534M394.67 526.5V534M397.72 526.5V534M400.77 526.5V534M403.83 526.5V534M406.88 526.5V534M409.93 526.5V534M412.98 526.5V534M416.04 526.5V534M419.09 526.5V534M422.14 526.5V534M425.20 526.5V534M428.25 526.5V534M431.30 526.5V534M434.35 526.5V534M437.41 526.5V534M440.46 526.5V534M443.51 526.5V534M446.57 526.5V534M449.62 526.5V534M452.67 526.5V534M455.72 526.5V534M458.78 526.5V534M461.83 526.5V534M464.88 526.5V534M467.94 526.5V534M470.99 526.5V534M474.04 526.5V534M477.09 526.5V534M480.15 526.5V534M483.20 526.5V534M486.25 526.5V534M489.30 526.5V534M492.36 526.5V534M495.41 526.5V534M498.46 526.5V534M501.52 526.5V534M504.57 526.5V534M507.62 526.5V534M510.67 526.5V534M513.73 526.5V534M516.78 526.5V534M519.83 526.5V534M522.89 526.5V534M525.94 526.5V534M528.99 526.5V534M532.04 526.5V534M535.10 526.5V534M538.15 526.5V534M541.20 526.5V534M544.26 526.5V534M547.31 526.5V534M550.36 526.5V534M553.41 526.5V534M556.47 526.5V534M559.52 526.5V534M562.57 526.5V534M565.62 526.5V534M568.68 526.5V534M571.73 526.5V534M574.78 526.5V534M577.84 526.5V534M580.89 526.5V534M583.94 526.5V534M586.99 526.5V534M590.05 526.5V534M593.10 526.5V534M596.15 526.5V534M599.21 526.5V534M602.26 526.5V534M605.31 526.5V534M608.36 526.5V534M611.42 526.5V534M614.47 526.5V534M617.52 526.5V534M620.58 526.5V534M623.63 526.5V534M626.68 526.5V534M629.73 526.5V534M632.79 526.5V534M635.84 526.5V534M638.89 526.5V534M641.94 526.5V534M645.00 526.5V534M648.05 526.5V534M651.10 526.5V534M654.16 526.5V534M657.21 526.5V534M660.26 526.5V534M663.31 526.5V534M666.37 526.5V534M669.42 526.5V534M672.47 526.5V534M675.53 526.5V534M678.58 526.5V534M681.63 526.5V534M684.68 526.5V534M687.74 526.5V534M690.79 526.5V534M693.84 526.5V534M696.90 526.5V534M699.95 526.5V534M703.00 526.5V534M706.05 526.5V534M709.11 526.5V534M712.16 526.5V534M715.21 526.5V534M718.26 526.5V534M721.32 526.5V534M724.37 526.5V534M727.42 526.5V534M730.48 526.5V534M733.53 526.5V534M736.58 526.5V534M739.63 526.5V534M742.69 526.5V534M745.74 526.5V534M748.79 526.5V534M751.85 526.5V534M754.90 526.5V534M757.95 526.5V534M761.00 526.5V534M764.06 526.5V534M767.11 526.5V534M770.16 526.5V534M773.22 526.5V534M776.27 526.5V534M779.32 526.5V534M782.37 526.5V534M785.43 526.5V534M788.48 526.5V534M791.53 526.5V534M794.58 526.5V534M797.64 526.5V534M800.69 526.5V534M803.74 526.5V534M806.80 526.5V534M809.85 526.5V534M812.90 526.5V534M815.95 526.5V534M819.01 526.5V534M822.06 526.5V534M825.11 526.5V534M828.17 526.5V534M831.22 526.5V534M834.27 526.5V534M837.32 526.5V534M840.38 526.5V534M843.43 526.5V534M846.48 526.5V534M849.54 526.5V534M852.59 526.5V534M855.64 526.5V534M858.69 526.5V534M861.75 526.5V534M864.80 526.5V534M867.85 526.5V534M870.90 526.5V534M873.96 526.5V534M877.01 526.5V534M880.06 526.5V534M883.12 526.5V534M886.17 526.5V534M889.22 526.5V534M892.27 526.5V534M895.33 526.5V534M898.38 526.5V534M901.43 526.5V534M904.49 526.5V534M907.54 526.5V534M910.59 526.5V534M913.64 526.5V534M916.70 526.5V534M919.75 526.5V534M922.80 526.5V534M925.86 526.5V534M928.91 526.5V534M931.96 526.5V534M935.01 526.5V534M938.07 526.5V534M941.12 526.5V534M944.17 526.5V534M947.22 526.5V534M950.28 526.5V534M953.33 526.5V534M956.38 526.5V534M959.44 526.5V534M962.49 526.5V534M965.54 526.5V534M968.59 526.5V534M971.65 526.5V534M974.70 526.5V534M977.75 526.5V534M980.81 526.5V534M983.86 526.5V534M986.91 526.5V534M989.96 526.5V534M993.02 526.5V534M996.07 526.5V534M999.12 526.5V534M1002.18 526.5V534M1005.23 526.5V534M1008.28 526.5V534M1011.33 526.5V534M1014.39 526.5V534M1017.44 526.5V534M1020.49 526.5V534M1023.54 526.5V534M1026.60 526.5V534M1029.65 526.5V534M1032.70 526.5V534M1035.76 526.5V534M1038.81 526.5V534M1041.86 526.5V534M1044.91 526.5V534M1047.97 526.5V534M1051.02 526.5V534M1054.07 526.5V534M1057.13 526.5V534M1060.18 526.5V534M1063.23 526.5V534M1066.28 526.5V534M1069.34 526.5V534M1072.39 526.5V534M1075.44 526.5V534M1078.50 526.5V534M1081.55 526.5V534M1084.60 526.5V534M1087.65 526.5V534M1090.71 526.5V534M1093.76 526.5V534M1096.81 526.5V534M1099.86 526.5V534M1102.92 526.5V534M1105.97 526.5V534M1109.02 526.5V534M1112.08 526.5V534M1115.13 526.5V534M1118.18 526.5V534M1121.23 526.5V534M1124.29 526.5V534M1127.34 526.5V534M1130.39 526.5V534M1133.45 526.5V534M1136.50 526.5V534M1139.55 526.5V534M1142.60 526.5V534M1145.66 526.5V534M1148.71 526.5V534M1151.76 526.5V534M1154.82 526.5V534M1157.87 526.5V534M1160.92 526.5V534M1163.97 526.5V534M1167.03 526.5V534M1170.08 526.5V534" stroke="#333" stroke-width="0.9" fill="none"/>
<text class="s" x="58.9" y="551.6" font-size="8.8" text-anchor="middle" letter-spacing="-0.2">sty 01</text>
<text class="s" x="89.4" y="551.6" font-size="8.8" text-anchor="middle" letter-spacing="-0.2">sty 11</text>
<text class="s" x="119.9" y="551.6" font-size="8.8" text-anchor="middle" letter-spacing="-0.2">sty 21</text>
<text class="s" x="150.4" y="551.6" font-size="8.8" text-anchor="middle" letter-spacing="-0.2">sty 31</text>
<text class="s" x="181.0" y="551.6" font-size="8.8" text-anchor="middle" letter-spacing="-0.2">lut 10</text>
<text class="s" x="211.5" y="551.6" font-size="8.8" text-anchor="middle" letter-spacing="-0.2">lut 20</text>
<text class="s" x="245.1" y="551.6" font-size="8.8" text-anchor="middle" letter-spacing="-0.2">mar 03</text>
<text class="s" x="281.7" y="551.6" font-size="8.8" text-anchor="middle" letter-spacing="-0.2">mar 15</text>
<text class="s" x="318.3" y="551.6" font-size="8.8" text-anchor="middle" letter-spacing="-0.2">mar 27</text>
<text class="s" x="351.9" y="551.6" font-size="8.8" text-anchor="middle" letter-spacing="-0.2">kwi 07</text>
<text class="s" x="385.5" y="551.6" font-size="8.8" text-anchor="middle" letter-spacing="-0.2">kwi 18</text>
<text class="s" x="419.1" y="551.6" font-size="8.8" text-anchor="middle" letter-spacing="-0.2">kwi 29</text>
<text class="s" x="452.7" y="551.6" font-size="8.8" text-anchor="middle" letter-spacing="-0.2">maj 10</text>
<text class="s" x="486.3" y="551.6" font-size="8.8" text-anchor="middle" letter-spacing="-0.2">maj 21</text>
<text class="s" x="519.8" y="551.6" font-size="8.8" text-anchor="middle" letter-spacing="-0.2">cze 01</text>
<text class="s" x="553.4" y="551.6" font-size="8.8" text-anchor="middle" letter-spacing="-0.2">cze 12</text>
<text class="s" x="587.0" y="551.6" font-size="8.8" text-anchor="middle" letter-spacing="-0.2">cze 23</text>
<text class="s" x="617.5" y="551.6" font-size="8.8" text-anchor="middle" letter-spacing="-0.2">lip 03</text>
<text class="s" x="648.1" y="551.6" font-size="8.8" text-anchor="middle" letter-spacing="-0.2">lip 13</text>
<text class="s" x="678.6" y="551.6" font-size="8.8" text-anchor="middle" letter-spacing="-0.2">lip 23</text>
<text class="s" x="709.1" y="551.6" font-size="8.8" text-anchor="middle" letter-spacing="-0.2">sie 02</text>
<text class="s" x="739.6" y="551.6" font-size="8.8" text-anchor="middle" letter-spacing="-0.2">sie 12</text>
<text class="s" x="770.2" y="551.6" font-size="8.8" text-anchor="middle" letter-spacing="-0.2">sie 22</text>
<text class="s" x="803.7" y="551.6" font-size="8.8" text-anchor="middle" letter-spacing="-0.2">wrz 02</text>
<text class="s" x="837.3" y="551.6" font-size="8.8" text-anchor="middle" letter-spacing="-0.2">wrz 13</text>
<text class="s" x="870.9" y="551.6" font-size="8.8" text-anchor="middle" letter-spacing="-0.2">wrz 24</text>
<text class="s" x="904.5" y="551.6" font-size="8.8" text-anchor="middle" letter-spacing="-0.2">paź 05</text>
<text class="s" x="938.1" y="551.6" font-size="8.8" text-anchor="middle" letter-spacing="-0.2">paź 16</text>
<text class="s" x="971.6" y="551.6" font-size="8.8" text-anchor="middle" letter-spacing="-0.2">paź 27</text>
<text class="s" x="1002.2" y="551.6" font-size="8.8" text-anchor="middle" letter-spacing="-0.2">lis 06</text>
<text class="s" x="1029.7" y="551.6" font-size="8.8" text-anchor="middle" letter-spacing="-0.2">lis 15</text>
<text class="s" x="1057.1" y="551.6" font-size="8.8" text-anchor="middle" letter-spacing="-0.2">lis 24</text>
<text class="s" x="1087.7" y="551.6" font-size="8.8" text-anchor="middle" letter-spacing="-0.2">gru 04</text>
<text class="s" x="1121.2" y="551.6" font-size="8.8" text-anchor="middle" letter-spacing="-0.2">gru 15</text>
<text class="s" x="1154.8" y="551.6" font-size="8.8" text-anchor="middle" letter-spacing="-0.2">gru 26</text>
<text class="s" x="614.5" y="581" font-size="12" text-anchor="middle">Data</text>
<text class="s" font-size="12.2" text-anchor="middle" transform="translate(13.2 292.7) rotate(-90)">Temperatura</text>
<path d="M97.5 83.3H151" stroke="#000" stroke-width="2.7" stroke-linecap="round" fill="none"/>
<text class="s" x="162" y="87.6" font-size="12" letter-spacing="0.18">2022</text>
<path d="M97.5 97.7H151" stroke="#5f5fff" stroke-width="1.1" stroke-linecap="round" fill="none"/>
<text class="s" x="162" y="102.0" font-size="12" letter-spacing="0.18">1981-1990</text>
<path d="M97.5 112.2H151" stroke="#4a8f4a" stroke-width="1.1" stroke-linecap="round" fill="none"/>
<text class="s" x="162" y="116.5" font-size="12" letter-spacing="0.18">1991-2000</text>
<path d="M97.5 126.6H151" stroke="#f2cf3a" stroke-width="1.1" stroke-linecap="round" fill="none"/>
<text class="s" x="162" y="130.9" font-size="12" letter-spacing="0.18">2001-2010</text>
<path d="M97.5 141.0H151" stroke="#ff8f8f" stroke-width="1.6" stroke-linecap="round" fill="none"/>
<text class="s" x="162" y="145.3" font-size="12" letter-spacing="0.18">2011-2020</text>
<path d="M97.5 155.4H151" stroke="#ff0000" stroke-width="2.2" stroke-linecap="round" stroke-dasharray="5.3 6.7" fill="none"/>
<text class="s" x="162" y="159.8" font-size="12" letter-spacing="0.18">1991-2020</text>
<path d="M97.5 169.9H151" stroke="#0000ff" stroke-width="2.2" stroke-linecap="round" stroke-dasharray="5.3 6.7" fill="none"/>
<text class="s" x="162" y="174.2" font-size="12" letter-spacing="0.18">1951-1980</text>
<path d="M97.5 184.3H151" stroke="#e5e5e5" stroke-width="5" stroke-linecap="round" fill="none"/>
<text class="s" x="162" y="188.6" font-size="12" letter-spacing="0.18">max-min 1950-2021</text>
</svg></body></html>
